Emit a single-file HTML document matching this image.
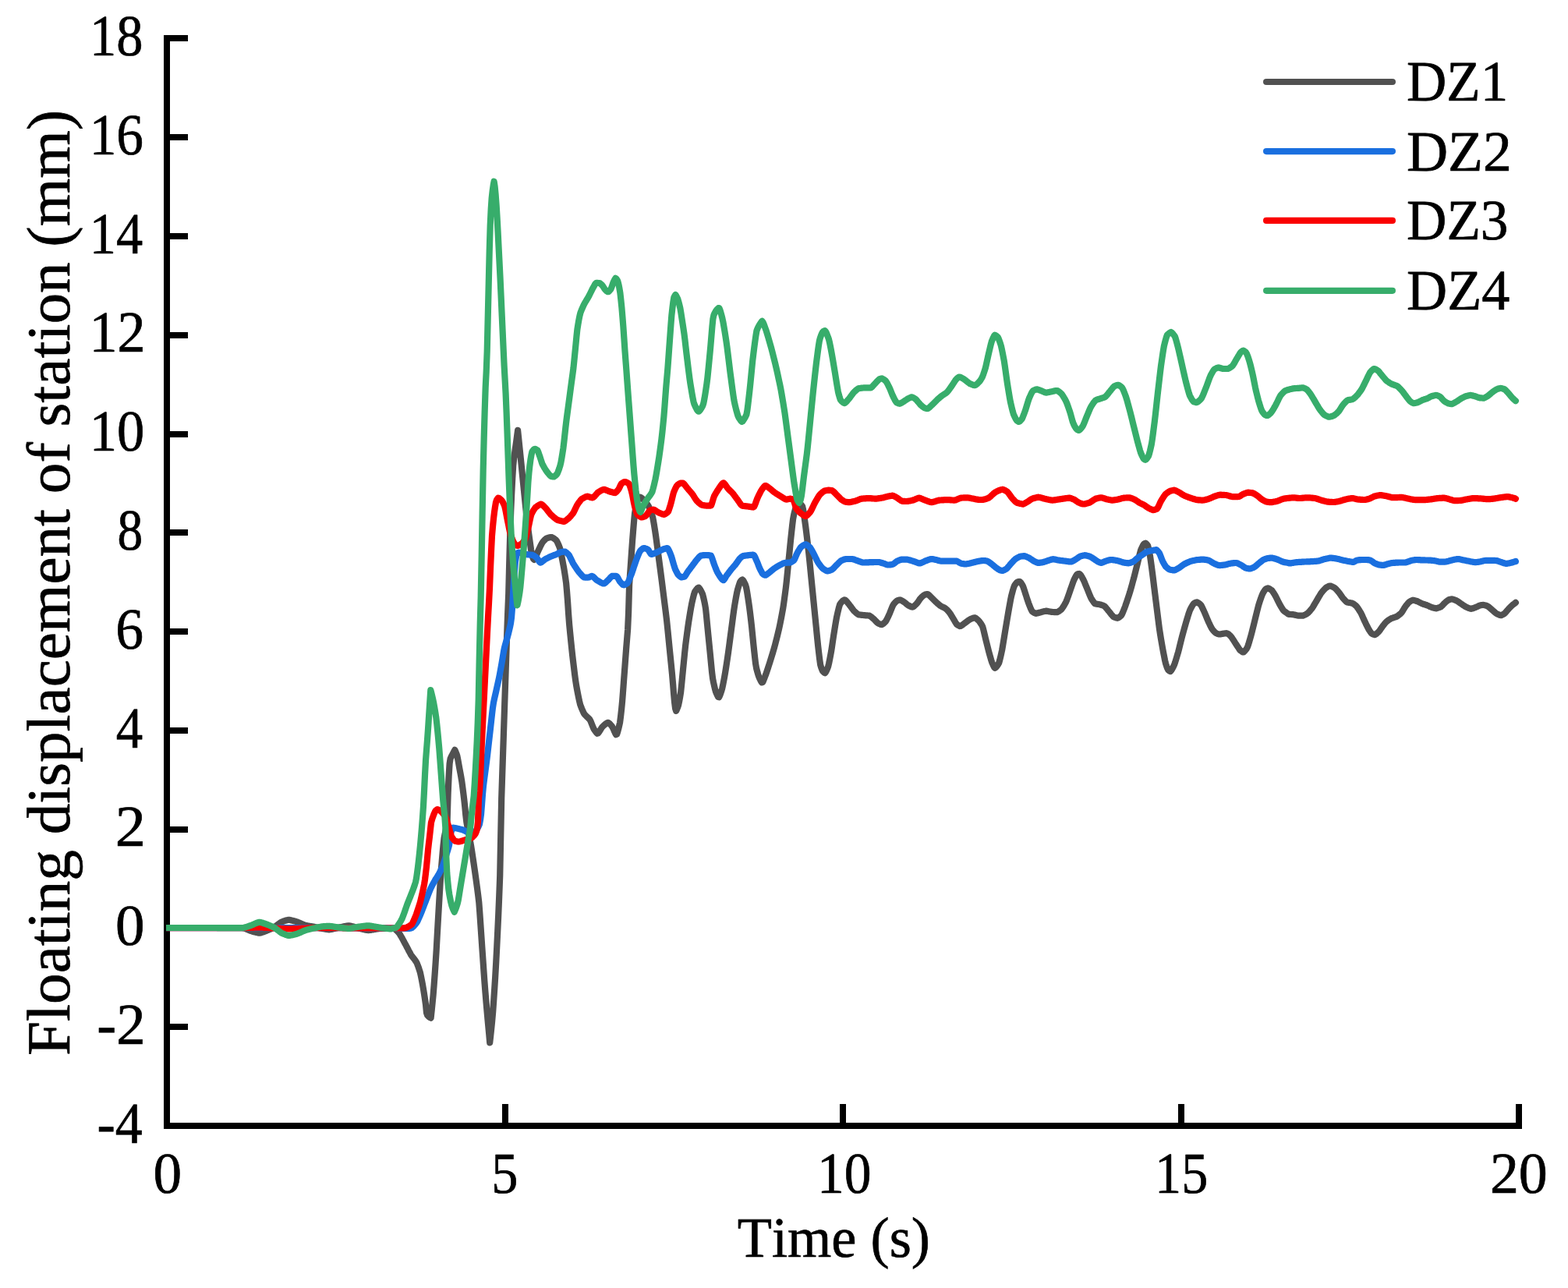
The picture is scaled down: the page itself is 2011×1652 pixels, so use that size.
<!DOCTYPE html>
<html lang="en"><head><meta charset="utf-8"><title>Floating displacement of station</title>
<style>
html,body{margin:0;padding:0;background:#fff;}
body{width:2011px;height:1652px;overflow:hidden;}
svg{display:block;font-family:"Liberation Serif","Times New Roman",serif;font-kerning:none;font-variant-ligatures:none;text-rendering:geometricPrecision;}
.ax{stroke:#000;stroke-width:8;fill:none;stroke-linecap:butt;}
.t{fill:#000;stroke:#000;stroke-width:0.7;stroke-linejoin:round;}
.cv{fill:none;stroke-width:8.2;stroke-linejoin:round;stroke-linecap:round;}
</style></head><body>
<svg width="2011" height="1652" viewBox="0 0 2011 1652">
<rect width="2011" height="1652" fill="#fff"/>
<g class="ax">
<path d="M214,45 V1448"/>
<path d="M210,1444 H1952"/>
<path d="M214,1317 H241"/>
<path d="M214,1191 H241" stroke-width="6"/>
<path d="M214,1064 H241"/>
<path d="M214,937 H241"/>
<path d="M214,810 H241"/>
<path d="M214,683 H241"/>
<path d="M214,557 H241"/>
<path d="M214,430 H241"/>
<path d="M214,303 H241"/>
<path d="M214,176 H241"/>
<path d="M214,49 H241"/>
<path d="M648,1444 V1416"/>
<path d="M1081,1444 V1416"/>
<path d="M1515,1444 V1416"/>
<path d="M1948,1444 V1416"/>
</g>
<clipPath id="plotclip"><rect x="213" y="0" width="1798" height="1652"/></clipPath>
<g clip-path="url(#plotclip)">
<path class="cv" stroke="#515151" d="M214.0,1190.0 L215.0,1190.0 L216.0,1190.0 L217.0,1190.0 L218.0,1190.0 L219.0,1190.0 L220.0,1190.0 L221.0,1190.0 L222.0,1190.0 L223.0,1190.0 L224.0,1190.0 L225.0,1190.0 L226.0,1190.0 L227.0,1190.0 L228.0,1190.0 L229.0,1190.0 L230.0,1190.0 L231.0,1190.0 L232.0,1190.0 L233.0,1190.0 L234.0,1190.0 L235.0,1190.0 L236.0,1190.0 L237.0,1190.0 L238.0,1190.0 L239.0,1190.0 L240.0,1190.0 L241.0,1190.0 L242.0,1190.0 L243.0,1190.0 L244.0,1190.0 L245.0,1190.0 L246.0,1190.0 L247.0,1190.0 L248.0,1190.0 L249.0,1190.0 L250.0,1190.0 L251.0,1190.0 L252.0,1190.0 L253.0,1190.0 L254.0,1190.0 L255.0,1190.0 L256.0,1190.0 L257.0,1190.0 L258.0,1190.0 L259.0,1190.0 L260.0,1190.0 L261.0,1190.0 L262.0,1190.0 L263.0,1190.0 L264.0,1190.0 L265.0,1190.0 L266.0,1190.0 L267.0,1190.0 L268.0,1190.0 L269.0,1190.0 L270.0,1190.0 L271.0,1190.0 L272.0,1190.0 L273.0,1190.0 L274.0,1190.0 L275.0,1190.0 L276.0,1190.0 L277.0,1190.0 L278.0,1190.0 L279.0,1190.0 L280.0,1190.0 L281.0,1190.0 L282.0,1190.0 L283.0,1190.0 L284.0,1190.0 L285.0,1190.0 L286.0,1190.0 L287.0,1190.0 L288.0,1190.0 L289.0,1190.0 L290.0,1190.0 L291.0,1190.0 L292.0,1190.0 L293.0,1190.0 L294.0,1190.0 L295.0,1190.0 L296.0,1190.0 L297.0,1190.0 L298.0,1190.0 L299.0,1190.0 L300.0,1190.0 L301.0,1190.0 L302.0,1190.0 L303.0,1190.0 L304.0,1190.0 L305.0,1190.0 L306.0,1190.0 L307.0,1190.0 L308.0,1190.0 L309.0,1190.0 L310.0,1190.0 L311.0,1190.0 L312.0,1190.2 L313.0,1190.4 L314.0,1190.8 L315.0,1191.2 L316.0,1191.6 L317.0,1192.0 L318.0,1192.5 L319.0,1192.9 L320.0,1193.4 L321.0,1193.8 L322.0,1194.1 L323.0,1194.4 L324.0,1194.7 L325.0,1195.0 L326.0,1195.3 L327.0,1195.6 L328.0,1195.8 L329.0,1196.1 L330.0,1196.3 L331.0,1196.5 L332.0,1196.7 L333.0,1196.7 L334.0,1196.5 L335.0,1196.2 L336.0,1195.9 L337.0,1195.6 L338.0,1195.2 L339.0,1194.9 L340.0,1194.5 L341.0,1194.1 L342.0,1193.7 L343.0,1193.3 L344.0,1192.9 L345.0,1192.4 L346.0,1192.0 L347.0,1191.5 L348.0,1191.0 L349.0,1190.5 L350.0,1189.9 L351.0,1189.4 L352.0,1188.9 L353.0,1188.3 L354.0,1187.6 L355.0,1186.8 L356.0,1186.1 L357.0,1185.3 L358.0,1184.6 L359.0,1183.9 L360.0,1183.2 L361.0,1182.6 L362.0,1182.2 L363.0,1181.8 L364.0,1181.5 L365.0,1181.1 L366.0,1180.8 L367.0,1180.5 L368.0,1180.2 L369.0,1180.0 L370.0,1179.8 L371.0,1179.8 L372.0,1180.0 L373.0,1180.2 L374.0,1180.5 L375.0,1180.7 L376.0,1181.0 L377.0,1181.3 L378.0,1181.6 L379.0,1181.8 L380.0,1182.1 L381.0,1182.4 L382.0,1182.8 L383.0,1183.2 L384.0,1183.6 L385.0,1184.1 L386.0,1184.5 L387.0,1185.0 L388.0,1185.4 L389.0,1185.9 L390.0,1186.3 L391.0,1186.6 L392.0,1187.0 L393.0,1187.1 L394.0,1187.3 L395.0,1187.5 L396.0,1187.7 L397.0,1187.8 L398.0,1188.0 L399.0,1188.1 L400.0,1188.3 L401.0,1188.4 L402.0,1188.6 L403.0,1188.8 L404.0,1189.0 L405.0,1189.2 L406.0,1189.5 L407.0,1189.7 L408.0,1189.9 L409.0,1190.1 L410.0,1190.4 L411.0,1190.6 L412.0,1190.8 L413.0,1191.0 L414.0,1191.1 L415.0,1191.3 L416.0,1191.5 L417.0,1191.6 L418.0,1191.8 L419.0,1191.9 L420.0,1192.1 L421.0,1192.2 L422.0,1192.3 L423.0,1192.2 L424.0,1192.0 L425.0,1191.9 L426.0,1191.7 L427.0,1191.4 L428.0,1191.2 L429.0,1191.0 L430.0,1190.7 L431.0,1190.5 L432.0,1190.2 L433.0,1190.0 L434.0,1189.8 L435.0,1189.6 L436.0,1189.3 L437.0,1189.1 L438.0,1188.9 L439.0,1188.7 L440.0,1188.5 L441.0,1188.3 L442.0,1188.1 L443.0,1187.9 L444.0,1187.7 L445.0,1187.6 L446.0,1187.4 L447.0,1187.3 L448.0,1187.4 L449.0,1187.5 L450.0,1187.8 L451.0,1188.0 L452.0,1188.2 L453.0,1188.5 L454.0,1188.8 L455.0,1189.1 L456.0,1189.4 L457.0,1189.7 L458.0,1190.0 L459.0,1190.3 L460.0,1190.5 L461.0,1190.8 L462.0,1191.0 L463.0,1191.2 L464.0,1191.5 L465.0,1191.7 L466.0,1192.0 L467.0,1192.2 L468.0,1192.4 L469.0,1192.7 L470.0,1192.8 L471.0,1193.0 L472.0,1193.1 L473.0,1193.1 L474.0,1193.0 L475.0,1192.9 L476.0,1192.8 L477.0,1192.6 L478.0,1192.4 L479.0,1192.3 L480.0,1192.1 L481.0,1191.9 L482.0,1191.7 L483.0,1191.5 L484.0,1191.4 L485.0,1191.2 L486.0,1191.1 L487.0,1191.0 L488.0,1191.0 L489.0,1190.9 L490.0,1190.9 L491.0,1190.9 L492.0,1190.8 L493.0,1190.8 L494.0,1190.8 L495.0,1190.7 L496.0,1190.7 L497.0,1190.7 L498.0,1190.6 L499.0,1190.6 L500.0,1190.6 L501.0,1190.6 L502.0,1190.5 L503.0,1190.5 L504.0,1190.5 L505.0,1190.7 L506.0,1191.3 L507.0,1192.0 L508.0,1192.9 L509.0,1193.9 L510.0,1194.9 L511.0,1195.9 L512.0,1197.0 L513.0,1198.6 L514.0,1200.3 L515.0,1202.0 L516.0,1203.8 L517.0,1205.7 L518.0,1207.6 L519.0,1209.4 L520.0,1211.2 L521.0,1213.1 L522.0,1215.0 L523.0,1216.9 L524.0,1218.9 L525.0,1220.7 L526.0,1222.6 L527.0,1224.4 L528.0,1225.9 L529.0,1227.2 L530.0,1228.5 L531.0,1229.8 L532.0,1231.1 L533.0,1232.5 L534.0,1234.0 L535.0,1236.1 L536.0,1238.7 L537.0,1241.5 L538.0,1244.5 L539.0,1247.8 L540.0,1252.5 L541.0,1257.5 L542.0,1262.8 L543.0,1268.6 L544.0,1274.8 L545.0,1281.3 L546.0,1288.3 L547.0,1298.9 L548.0,1301.9 L549.0,1303.0 L550.0,1304.0 L551.0,1304.8 L552.0,1305.4 L552.6,1305.7 L553.6,1296.5 L554.6,1286.7 L555.6,1276.4 L556.6,1263.9 L557.6,1250.1 L558.6,1235.8 L559.6,1219.9 L560.6,1202.1 L561.6,1184.2 L562.6,1166.9 L563.6,1149.7 L564.6,1133.0 L565.6,1118.2 L566.6,1106.0 L567.6,1094.3 L568.6,1083.4 L569.6,1074.8 L570.6,1069.7 L571.6,1065.1 L572.6,1060.1 L573.6,1053.3 L574.6,1018.8 L575.6,995.5 L576.6,979.4 L577.6,973.2 L578.6,970.9 L579.6,968.9 L580.6,967.1 L581.6,965.1 L582.6,963.2 L583.3,961.9 L584.3,963.9 L585.3,966.4 L586.3,969.3 L587.3,974.3 L588.3,979.9 L589.3,985.4 L590.3,990.8 L591.3,996.3 L592.3,1002.2 L593.3,1009.7 L594.3,1017.5 L595.3,1025.7 L596.3,1035.1 L597.3,1045.5 L598.3,1054.0 L599.3,1059.8 L600.3,1065.2 L601.3,1070.4 L602.3,1075.4 L603.3,1080.6 L604.3,1086.1 L605.3,1092.5 L606.3,1099.0 L607.3,1105.7 L608.3,1112.5 L609.3,1119.3 L610.3,1126.5 L611.3,1133.8 L612.3,1141.2 L613.3,1149.0 L614.3,1157.5 L615.3,1170.7 L616.3,1185.2 L617.3,1200.1 L618.3,1214.7 L619.3,1229.1 L620.3,1243.6 L621.3,1257.8 L622.3,1270.8 L623.3,1282.7 L624.3,1294.3 L625.3,1305.6 L626.3,1316.4 L627.3,1327.1 L628.2,1337.4 L629.2,1328.6 L630.2,1319.1 L631.2,1309.0 L632.2,1297.7 L633.2,1283.5 L634.2,1268.4 L635.2,1252.7 L636.2,1234.8 L637.2,1215.4 L638.2,1195.1 L639.2,1173.7 L640.2,1149.9 L641.2,1123.7 L642.2,1073.4 L643.2,1023.7 L644.2,993.0 L645.2,963.2 L646.2,933.2 L647.2,903.2 L648.2,873.2 L649.2,843.1 L650.2,812.8 L651.2,785.6 L652.2,761.8 L653.2,722.0 L654.2,685.2 L655.2,655.7 L656.2,633.3 L657.2,613.9 L658.2,597.0 L659.2,587.7 L660.2,580.2 L661.2,573.2 L662.2,566.2 L663.2,558.5 L664.1,551.9 L665.1,561.5 L666.1,571.1 L667.1,580.8 L668.1,590.6 L669.1,600.6 L670.1,610.7 L671.1,620.7 L672.1,630.6 L673.1,640.3 L674.1,650.0 L675.1,659.5 L676.1,668.5 L677.1,676.2 L678.1,683.7 L679.1,691.0 L680.1,698.1 L681.1,705.3 L682.1,711.4 L683.1,714.5 L684.1,716.9 L685.1,717.9 L686.1,716.3 L687.1,714.2 L688.1,711.7 L689.1,709.2 L690.1,706.9 L691.1,704.8 L692.1,702.7 L693.1,700.6 L694.1,698.6 L695.1,696.7 L696.1,695.2 L697.1,694.1 L698.1,693.0 L699.1,692.0 L700.1,691.1 L701.1,690.4 L702.1,690.1 L703.1,689.8 L704.1,689.6 L705.1,689.3 L706.1,689.1 L707.1,689.0 L708.1,689.3 L709.1,689.8 L710.1,690.4 L711.1,691.1 L712.1,691.9 L713.1,692.7 L714.1,694.0 L715.1,696.0 L716.1,698.2 L717.1,700.6 L718.1,703.2 L719.1,707.5 L720.1,712.3 L721.1,717.4 L722.1,722.7 L723.1,728.1 L724.1,734.1 L725.1,740.6 L726.1,747.7 L727.1,759.1 L728.1,772.0 L729.1,787.3 L730.1,800.4 L731.1,810.9 L732.1,820.9 L733.1,830.6 L734.1,840.0 L735.1,848.5 L736.1,856.8 L737.1,864.9 L738.1,872.5 L739.1,879.0 L740.1,884.5 L741.1,889.7 L742.1,894.7 L743.1,899.4 L744.1,903.6 L745.1,906.2 L746.1,908.8 L747.1,911.1 L748.1,913.3 L749.1,915.3 L750.1,916.7 L751.1,917.7 L752.1,918.7 L753.1,919.6 L754.1,920.5 L755.1,921.5 L756.1,922.5 L757.1,924.1 L758.1,926.4 L759.1,928.9 L760.1,931.4 L761.1,933.8 L762.1,935.8 L763.1,937.3 L764.1,938.6 L765.1,939.8 L766.1,940.8 L767.1,940.4 L768.1,939.2 L769.1,937.6 L770.1,936.0 L771.1,934.3 L772.1,932.8 L773.1,931.7 L774.1,930.8 L775.1,929.9 L776.1,929.0 L777.1,928.2 L778.1,927.6 L779.1,927.0 L780.1,926.8 L781.1,927.5 L782.1,928.4 L783.1,929.5 L784.1,930.7 L785.1,931.9 L786.1,933.7 L787.1,935.9 L788.1,938.3 L789.1,940.4 L790.1,942.2 L791.1,941.8 L792.1,938.9 L793.1,935.2 L794.1,931.0 L795.1,926.6 L796.1,918.8 L797.1,909.8 L798.1,899.4 L799.1,886.2 L800.1,872.4 L801.1,859.1 L802.1,845.7 L803.1,832.4 L804.1,820.0 L805.1,807.5 L806.1,785.4 L807.1,750.3 L808.1,735.9 L809.1,721.5 L810.1,707.1 L811.1,693.2 L812.1,680.6 L813.1,668.5 L814.1,658.1 L815.1,652.5 L816.1,647.6 L817.1,643.4 L818.1,641.1 L819.1,639.6 L820.1,638.4 L821.1,637.6 L822.1,638.1 L823.1,638.9 L824.1,639.8 L825.1,640.7 L826.1,641.7 L827.1,642.8 L828.1,644.0 L829.1,645.3 L830.1,646.7 L831.1,648.1 L832.1,649.8 L833.1,652.1 L834.1,654.6 L835.1,657.3 L836.1,660.1 L837.1,663.2 L838.1,668.3 L839.1,674.3 L840.1,680.7 L841.1,687.3 L842.1,694.7 L843.1,702.3 L844.1,709.9 L845.1,717.4 L846.1,724.9 L847.1,732.4 L848.1,740.0 L849.1,747.8 L850.1,755.8 L851.1,763.7 L852.1,771.7 L853.1,779.6 L854.1,787.5 L855.1,795.7 L856.1,805.3 L857.1,815.4 L858.1,825.6 L859.1,835.6 L860.1,845.5 L861.1,855.4 L862.1,865.6 L863.1,877.4 L864.1,889.8 L865.1,900.8 L866.1,908.7 L867.1,911.9 L868.1,909.9 L869.1,907.3 L870.1,904.4 L871.1,899.7 L872.1,894.2 L873.1,888.1 L874.1,878.6 L875.1,868.2 L876.1,857.9 L877.1,847.8 L878.1,837.7 L879.1,828.2 L880.1,820.3 L881.1,812.7 L882.1,805.4 L883.1,798.4 L884.1,792.1 L885.1,785.9 L886.1,780.1 L887.1,774.7 L888.1,770.2 L889.1,766.0 L890.1,762.1 L891.1,759.1 L892.1,757.6 L893.1,756.2 L894.1,755.0 L895.1,754.0 L896.1,753.6 L897.1,754.7 L898.1,756.1 L899.1,757.9 L900.1,759.8 L901.1,762.1 L902.1,766.0 L903.1,770.4 L904.1,775.2 L905.1,781.2 L906.1,790.8 L907.1,801.3 L908.1,811.6 L909.1,821.6 L910.1,831.6 L911.1,841.6 L912.1,852.1 L913.1,862.3 L914.1,870.3 L915.1,875.4 L916.1,879.9 L917.1,884.1 L918.1,887.5 L919.1,889.9 L920.1,892.1 L921.1,893.9 L922.1,894.3 L923.1,892.4 L924.1,889.8 L925.1,886.8 L926.1,883.4 L927.1,878.8 L928.1,873.7 L929.1,868.4 L930.1,862.8 L931.1,856.5 L932.1,850.0 L933.1,843.3 L934.1,836.4 L935.1,829.0 L936.1,821.4 L937.1,813.9 L938.1,806.3 L939.1,798.7 L940.1,791.0 L941.1,783.6 L942.1,777.0 L943.1,771.1 L944.1,765.5 L945.1,760.2 L946.1,756.0 L947.1,752.6 L948.1,749.5 L949.1,746.7 L950.1,745.0 L951.1,744.1 L952.1,743.5 L953.1,744.4 L954.1,746.0 L955.1,748.0 L956.1,750.2 L957.1,753.6 L958.1,759.1 L959.1,765.3 L960.1,771.9 L961.1,778.9 L962.1,786.8 L963.1,794.9 L964.1,803.9 L965.1,814.0 L966.1,824.2 L967.1,833.7 L968.1,842.9 L969.1,851.4 L970.1,857.1 L971.1,860.9 L972.1,864.4 L973.1,867.5 L974.1,870.0 L975.1,872.1 L976.1,873.9 L977.1,875.4 L978.1,875.1 L979.1,873.1 L980.1,870.6 L981.1,867.9 L982.1,865.3 L983.1,862.4 L984.1,859.4 L985.1,856.4 L986.1,853.3 L987.1,850.2 L988.1,847.0 L989.1,843.8 L990.1,840.5 L991.1,837.2 L992.1,833.8 L993.1,830.4 L994.1,826.7 L995.1,822.8 L996.1,818.9 L997.1,814.9 L998.1,810.8 L999.1,806.6 L1000.1,802.0 L1001.1,797.0 L1002.1,791.9 L1003.1,786.6 L1004.1,781.1 L1005.1,774.6 L1006.1,767.3 L1007.1,759.7 L1008.1,751.9 L1009.1,742.8 L1010.1,732.7 L1011.1,722.5 L1012.1,712.4 L1013.1,702.3 L1014.1,692.4 L1015.1,683.1 L1016.1,674.0 L1017.1,665.7 L1018.1,660.5 L1019.1,656.3 L1020.1,652.6 L1021.1,649.6 L1022.1,648.1 L1023.1,646.7 L1024.1,645.6 L1025.1,645.0 L1026.1,645.8 L1027.1,646.8 L1028.1,648.1 L1029.1,649.5 L1030.1,653.8 L1031.1,660.1 L1032.1,667.2 L1033.1,674.4 L1034.1,682.3 L1035.1,690.6 L1036.1,699.2 L1037.1,708.0 L1038.1,717.7 L1039.1,727.7 L1040.1,737.8 L1041.1,747.8 L1042.1,757.8 L1043.1,767.8 L1044.1,777.8 L1045.1,787.8 L1046.1,797.8 L1047.1,807.9 L1048.1,818.1 L1049.1,827.9 L1050.1,836.6 L1051.1,845.1 L1052.1,852.3 L1053.1,855.8 L1054.1,858.5 L1055.1,860.7 L1056.1,861.8 L1057.1,862.7 L1058.1,863.3 L1059.1,862.0 L1060.1,860.0 L1061.1,857.6 L1062.1,855.1 L1063.1,850.9 L1064.1,846.0 L1065.1,840.7 L1066.1,835.3 L1067.1,828.8 L1068.1,822.0 L1069.1,815.3 L1070.1,809.1 L1071.1,802.9 L1072.1,797.0 L1073.1,791.3 L1074.1,786.9 L1075.1,782.6 L1076.1,778.6 L1077.1,775.3 L1078.1,773.8 L1079.1,772.5 L1080.1,771.3 L1081.1,770.3 L1082.1,769.8 L1083.1,769.4 L1084.1,769.7 L1085.1,770.6 L1086.1,771.7 L1087.1,772.9 L1088.1,774.2 L1089.1,775.4 L1090.1,776.7 L1091.1,778.0 L1092.1,779.4 L1093.1,780.8 L1094.1,782.1 L1095.1,783.3 L1096.1,784.3 L1097.1,785.2 L1098.1,786.1 L1099.1,787.0 L1100.1,787.7 L1101.1,788.3 L1102.1,788.4 L1103.1,788.6 L1104.1,788.7 L1105.1,788.8 L1106.1,788.9 L1107.1,789.0 L1108.1,789.1 L1109.1,789.2 L1110.1,789.3 L1111.1,789.4 L1112.1,789.4 L1113.1,789.5 L1114.1,789.6 L1115.1,789.7 L1116.1,790.3 L1117.1,791.0 L1118.1,791.8 L1119.1,792.7 L1120.1,793.5 L1121.1,794.4 L1122.1,795.4 L1123.1,796.5 L1124.1,797.5 L1125.1,798.5 L1126.1,799.3 L1127.1,799.8 L1128.1,800.3 L1129.1,800.7 L1130.1,801.0 L1131.1,801.1 L1132.1,800.5 L1133.1,799.8 L1134.1,798.9 L1135.1,797.9 L1136.1,796.8 L1137.1,795.0 L1138.1,793.0 L1139.1,790.9 L1140.1,788.8 L1141.1,786.6 L1142.1,784.1 L1143.1,781.5 L1144.1,779.0 L1145.1,776.7 L1146.1,774.9 L1147.1,773.8 L1148.1,772.7 L1149.1,771.7 L1150.1,770.8 L1151.1,770.2 L1152.1,769.9 L1153.1,769.6 L1154.1,769.4 L1155.1,769.6 L1156.1,770.1 L1157.1,770.6 L1158.1,771.3 L1159.1,771.9 L1160.1,772.6 L1161.1,773.4 L1162.1,774.2 L1163.1,775.1 L1164.1,775.9 L1165.1,776.5 L1166.1,777.0 L1167.1,777.5 L1168.1,778.0 L1169.1,778.4 L1170.1,778.6 L1171.1,778.3 L1172.1,777.6 L1173.1,776.7 L1174.1,775.8 L1175.1,774.8 L1176.1,773.7 L1177.1,772.4 L1178.1,770.9 L1179.1,769.4 L1180.1,768.0 L1181.1,766.9 L1182.1,765.9 L1183.1,764.9 L1184.1,764.1 L1185.1,763.3 L1186.1,762.8 L1187.1,762.5 L1188.1,762.2 L1189.1,762.0 L1190.1,762.2 L1191.1,763.0 L1192.1,763.9 L1193.1,764.9 L1194.1,765.9 L1195.1,766.9 L1196.1,767.9 L1197.1,768.9 L1198.1,769.9 L1199.1,770.9 L1200.1,771.9 L1201.1,772.8 L1202.1,773.7 L1203.1,774.5 L1204.1,775.4 L1205.1,776.2 L1206.1,777.0 L1207.1,777.6 L1208.1,778.1 L1209.1,778.6 L1210.1,779.0 L1211.1,779.5 L1212.1,780.1 L1213.1,780.8 L1214.1,781.7 L1215.1,782.7 L1216.1,783.8 L1217.1,784.9 L1218.1,786.2 L1219.1,787.7 L1220.1,789.4 L1221.1,791.0 L1222.1,792.7 L1223.1,794.3 L1224.1,796.0 L1225.1,797.8 L1226.1,799.4 L1227.1,800.8 L1228.1,801.6 L1229.1,802.2 L1230.1,802.7 L1231.1,803.1 L1232.1,802.9 L1233.1,802.3 L1234.1,801.7 L1235.1,800.9 L1236.1,800.1 L1237.1,799.4 L1238.1,798.7 L1239.1,797.9 L1240.1,797.2 L1241.1,796.4 L1242.1,795.7 L1243.1,795.0 L1244.1,794.4 L1245.1,793.9 L1246.1,793.5 L1247.1,793.1 L1248.1,792.8 L1249.1,792.5 L1250.1,792.3 L1251.1,792.6 L1252.1,793.3 L1253.1,794.2 L1254.1,795.1 L1255.1,796.0 L1256.1,797.2 L1257.1,798.6 L1258.1,800.0 L1259.1,801.6 L1260.1,803.4 L1261.1,806.9 L1262.1,811.0 L1263.1,815.3 L1264.1,819.5 L1265.1,823.5 L1266.1,827.5 L1267.1,831.5 L1268.1,835.4 L1269.1,839.1 L1270.1,842.7 L1271.1,846.2 L1272.1,849.3 L1273.1,851.6 L1274.1,853.9 L1275.1,855.8 L1276.1,856.8 L1277.1,856.0 L1278.1,855.0 L1279.1,853.7 L1280.1,852.2 L1281.1,850.5 L1282.1,847.0 L1283.1,843.0 L1284.1,838.6 L1285.1,834.0 L1286.1,828.3 L1287.1,822.2 L1288.1,816.0 L1289.1,809.9 L1290.1,803.9 L1291.1,797.9 L1292.1,791.9 L1293.1,786.0 L1294.1,780.3 L1295.1,774.7 L1296.1,769.2 L1297.1,764.4 L1298.1,760.6 L1299.1,756.9 L1300.1,753.6 L1301.1,751.0 L1302.1,749.5 L1303.1,748.2 L1304.1,747.1 L1305.1,746.4 L1306.1,746.1 L1307.1,745.9 L1308.1,746.1 L1309.1,747.1 L1310.1,748.6 L1311.1,750.2 L1312.1,752.2 L1313.1,755.0 L1314.1,758.1 L1315.1,761.3 L1316.1,764.3 L1317.1,767.4 L1318.1,770.4 L1319.1,773.4 L1320.1,776.1 L1321.1,778.6 L1322.1,781.0 L1323.1,783.1 L1324.1,784.5 L1325.1,785.2 L1326.1,785.8 L1327.1,786.3 L1328.1,786.7 L1329.1,786.8 L1330.1,786.6 L1331.1,786.3 L1332.1,786.0 L1333.1,785.7 L1334.1,785.4 L1335.1,785.2 L1336.1,784.9 L1337.1,784.6 L1338.1,784.4 L1339.1,784.1 L1340.1,783.9 L1341.1,783.7 L1342.1,783.7 L1343.1,783.8 L1344.1,784.0 L1345.1,784.2 L1346.1,784.4 L1347.1,784.6 L1348.1,784.8 L1349.1,784.9 L1350.1,785.0 L1351.1,785.0 L1352.1,785.1 L1353.1,785.2 L1354.1,785.2 L1355.1,785.2 L1356.1,785.1 L1357.1,784.6 L1358.1,784.0 L1359.1,783.2 L1360.1,782.5 L1361.1,781.7 L1362.1,780.6 L1363.1,779.1 L1364.1,777.5 L1365.1,775.8 L1366.1,774.0 L1367.1,772.2 L1368.1,769.9 L1369.1,767.2 L1370.1,764.4 L1371.1,761.5 L1372.1,758.6 L1373.1,755.7 L1374.1,752.9 L1375.1,750.0 L1376.1,747.1 L1377.1,744.5 L1378.1,742.3 L1379.1,740.3 L1380.1,738.4 L1381.1,736.9 L1382.1,736.3 L1383.1,736.1 L1384.1,735.9 L1385.1,736.5 L1386.1,737.7 L1387.1,739.3 L1388.1,741.1 L1389.1,742.8 L1390.1,744.9 L1391.1,747.2 L1392.1,749.7 L1393.1,752.1 L1394.1,754.6 L1395.1,757.0 L1396.1,759.5 L1397.1,762.0 L1398.1,764.4 L1399.1,766.7 L1400.1,768.5 L1401.1,770.1 L1402.1,771.6 L1403.1,772.9 L1404.1,774.1 L1405.1,774.5 L1406.1,774.6 L1407.1,774.8 L1408.1,774.9 L1409.1,775.1 L1410.1,775.3 L1411.1,775.5 L1412.1,775.8 L1413.1,776.1 L1414.1,776.4 L1415.1,776.8 L1416.1,777.2 L1417.1,778.0 L1418.1,779.1 L1419.1,780.3 L1420.1,781.5 L1421.1,782.8 L1422.1,784.0 L1423.1,785.2 L1424.1,786.5 L1425.1,787.8 L1426.1,789.0 L1427.1,790.1 L1428.1,791.1 L1429.1,791.6 L1430.1,791.9 L1431.1,792.3 L1432.1,792.6 L1433.1,792.8 L1434.1,792.4 L1435.1,791.8 L1436.1,791.1 L1437.1,790.3 L1438.1,789.4 L1439.1,787.5 L1440.1,785.3 L1441.1,782.8 L1442.1,780.2 L1443.1,777.6 L1444.1,774.7 L1445.1,771.8 L1446.1,768.8 L1447.1,765.8 L1448.1,762.7 L1449.1,759.6 L1450.1,756.2 L1451.1,752.6 L1452.1,749.0 L1453.1,745.3 L1454.1,741.7 L1455.1,737.7 L1456.1,733.8 L1457.1,729.7 L1458.1,725.7 L1459.1,721.7 L1460.1,717.6 L1461.1,713.3 L1462.1,709.3 L1463.1,705.7 L1464.1,703.3 L1465.1,701.2 L1466.1,699.2 L1467.1,697.6 L1468.1,697.1 L1469.1,696.7 L1470.1,697.4 L1471.1,698.4 L1472.1,699.7 L1473.1,703.6 L1474.1,708.5 L1475.1,713.8 L1476.1,720.8 L1477.1,728.3 L1478.1,735.9 L1479.1,743.8 L1480.1,751.9 L1481.1,759.9 L1482.1,767.9 L1483.1,775.9 L1484.1,783.9 L1485.1,792.0 L1486.1,800.1 L1487.1,807.7 L1488.1,814.0 L1489.1,820.1 L1490.1,825.9 L1491.1,831.6 L1492.1,836.9 L1493.1,842.1 L1494.1,847.1 L1495.1,851.3 L1496.1,854.3 L1497.1,857.0 L1498.1,859.1 L1499.1,860.0 L1500.1,860.8 L1501.1,861.2 L1502.1,860.0 L1503.1,858.4 L1504.1,856.6 L1505.1,854.6 L1506.1,852.5 L1507.1,849.6 L1508.1,846.4 L1509.1,843.1 L1510.1,839.7 L1511.1,836.3 L1512.1,832.4 L1513.1,828.3 L1514.1,824.2 L1515.1,820.2 L1516.1,816.3 L1517.1,812.6 L1518.1,809.0 L1519.1,805.4 L1520.1,801.8 L1521.1,798.4 L1522.1,795.0 L1523.1,791.7 L1524.1,788.4 L1525.1,785.4 L1526.1,782.7 L1527.1,780.7 L1528.1,778.7 L1529.1,776.9 L1530.1,775.3 L1531.1,774.1 L1532.1,773.5 L1533.1,773.0 L1534.1,772.5 L1535.1,772.4 L1536.1,772.8 L1537.1,773.4 L1538.1,774.1 L1539.1,774.8 L1540.1,775.8 L1541.1,777.6 L1542.1,779.6 L1543.1,781.7 L1544.1,783.9 L1545.1,786.1 L1546.1,788.5 L1547.1,790.9 L1548.1,793.3 L1549.1,795.7 L1550.1,798.0 L1551.1,800.1 L1552.1,802.2 L1553.1,804.2 L1554.1,806.1 L1555.1,807.6 L1556.1,808.7 L1557.1,809.8 L1558.1,810.8 L1559.1,811.7 L1560.1,812.3 L1561.1,812.7 L1562.1,813.1 L1563.1,813.4 L1564.1,813.5 L1565.1,813.4 L1566.1,813.2 L1567.1,813.0 L1568.1,812.8 L1569.1,812.7 L1570.1,812.5 L1571.1,812.4 L1572.1,812.3 L1573.1,812.2 L1574.1,812.4 L1575.1,813.0 L1576.1,813.8 L1577.1,814.7 L1578.1,815.7 L1579.1,816.8 L1580.1,818.2 L1581.1,819.7 L1582.1,821.2 L1583.1,822.8 L1584.1,824.4 L1585.1,825.9 L1586.1,827.5 L1587.1,829.1 L1588.1,830.6 L1589.1,832.1 L1590.1,833.5 L1591.1,834.5 L1592.1,835.2 L1593.1,835.9 L1594.1,836.5 L1595.1,836.2 L1596.1,835.4 L1597.1,834.2 L1598.1,833.0 L1599.1,831.6 L1600.1,829.5 L1601.1,826.6 L1602.1,823.3 L1603.1,819.9 L1604.1,816.4 L1605.1,812.7 L1606.1,808.8 L1607.1,804.8 L1608.1,800.7 L1609.1,796.6 L1610.1,792.6 L1611.1,788.5 L1612.1,784.4 L1613.1,780.4 L1614.1,776.5 L1615.1,773.3 L1616.1,770.3 L1617.1,767.4 L1618.1,764.7 L1619.1,762.1 L1620.1,760.2 L1621.1,758.5 L1622.1,757.0 L1623.1,755.7 L1624.1,755.1 L1625.1,754.7 L1626.1,754.4 L1627.1,754.7 L1628.1,755.2 L1629.1,755.8 L1630.1,756.5 L1631.1,757.2 L1632.1,758.4 L1633.1,759.9 L1634.1,761.5 L1635.1,763.2 L1636.1,764.9 L1637.1,766.8 L1638.1,768.8 L1639.1,770.9 L1640.1,772.9 L1641.1,774.9 L1642.1,776.6 L1643.1,778.3 L1644.1,780.0 L1645.1,781.6 L1646.1,783.0 L1647.1,783.9 L1648.1,784.6 L1649.1,785.3 L1650.1,785.9 L1651.1,786.7 L1652.1,787.7 L1653.1,787.8 L1654.1,787.9 L1655.1,788.0 L1656.1,788.0 L1657.1,788.1 L1658.1,788.2 L1659.1,788.3 L1660.1,788.5 L1661.1,788.8 L1662.1,789.1 L1663.1,789.3 L1664.1,789.5 L1665.1,789.6 L1666.1,789.6 L1667.1,789.6 L1668.1,789.6 L1669.1,789.6 L1670.1,789.6 L1671.1,789.6 L1672.1,789.2 L1673.1,788.8 L1674.1,788.3 L1675.1,787.8 L1676.1,787.2 L1677.1,786.5 L1678.1,785.6 L1679.1,784.5 L1680.1,783.4 L1681.1,782.2 L1682.1,781.0 L1683.1,779.7 L1684.1,778.1 L1685.1,776.4 L1686.1,774.7 L1687.1,773.0 L1688.1,771.3 L1689.1,769.6 L1690.1,767.9 L1691.1,766.2 L1692.1,764.5 L1693.1,762.8 L1694.1,761.2 L1695.1,759.8 L1696.1,758.6 L1697.1,757.5 L1698.1,756.3 L1699.1,755.3 L1700.1,754.3 L1701.1,753.5 L1702.1,753.0 L1703.1,752.4 L1704.1,751.9 L1705.1,751.5 L1706.1,751.5 L1707.1,751.8 L1708.1,752.2 L1709.1,752.6 L1710.1,753.1 L1711.1,753.6 L1712.1,754.3 L1713.1,755.2 L1714.1,756.3 L1715.1,757.5 L1716.1,758.6 L1717.1,759.8 L1718.1,761.1 L1719.1,762.5 L1720.1,764.0 L1721.1,765.4 L1722.1,766.8 L1723.1,768.0 L1724.1,769.1 L1725.1,770.2 L1726.1,771.2 L1727.1,772.0 L1728.1,772.5 L1729.1,772.7 L1730.1,772.9 L1731.1,773.0 L1732.1,773.2 L1733.1,773.4 L1734.1,773.6 L1735.1,774.1 L1736.1,774.7 L1737.1,775.4 L1738.1,776.2 L1739.1,777.0 L1740.1,778.1 L1741.1,779.5 L1742.1,780.9 L1743.1,782.5 L1744.1,784.1 L1745.1,785.7 L1746.1,787.6 L1747.1,789.8 L1748.1,792.1 L1749.1,794.3 L1750.1,796.5 L1751.1,798.6 L1752.1,800.7 L1753.1,802.7 L1754.1,804.7 L1755.1,806.6 L1756.1,808.3 L1757.1,809.8 L1758.1,811.2 L1759.1,812.5 L1760.1,813.1 L1761.1,813.5 L1762.1,813.8 L1763.1,814.1 L1764.1,813.7 L1765.1,813.1 L1766.1,812.2 L1767.1,811.3 L1768.1,810.3 L1769.1,809.2 L1770.1,807.8 L1771.1,806.3 L1772.1,804.9 L1773.1,803.4 L1774.1,802.2 L1775.1,800.9 L1776.1,799.7 L1777.1,798.5 L1778.1,797.4 L1779.1,796.6 L1780.1,795.9 L1781.1,795.2 L1782.1,794.5 L1783.1,793.9 L1784.1,793.3 L1785.1,792.9 L1786.1,792.6 L1787.1,792.2 L1788.1,791.9 L1789.1,791.6 L1790.1,791.3 L1791.1,790.9 L1792.1,790.3 L1793.1,789.6 L1794.1,788.8 L1795.1,788.0 L1796.1,787.2 L1797.1,786.3 L1798.1,785.0 L1799.1,783.3 L1800.1,781.7 L1801.1,780.0 L1802.1,778.4 L1803.1,777.1 L1804.1,775.8 L1805.1,774.6 L1806.1,773.4 L1807.1,772.4 L1808.1,771.7 L1809.1,771.1 L1810.1,770.5 L1811.1,770.1 L1812.1,769.7 L1813.1,769.9 L1814.1,770.1 L1815.1,770.4 L1816.1,770.7 L1817.1,771.0 L1818.1,771.3 L1819.1,771.8 L1820.1,772.3 L1821.1,772.8 L1822.1,773.3 L1823.1,773.8 L1824.1,774.3 L1825.1,774.7 L1826.1,775.0 L1827.1,775.3 L1828.1,775.6 L1829.1,776.0 L1830.1,776.3 L1831.1,776.7 L1832.1,777.2 L1833.1,777.7 L1834.1,778.1 L1835.1,778.5 L1836.1,778.9 L1837.1,779.2 L1838.1,779.5 L1839.1,779.7 L1840.1,780.0 L1841.1,780.2 L1842.1,780.3 L1843.1,780.0 L1844.1,779.8 L1845.1,779.4 L1846.1,779.1 L1847.1,778.6 L1848.1,778.2 L1849.1,777.3 L1850.1,776.3 L1851.1,775.2 L1852.1,774.1 L1853.1,773.2 L1854.1,772.3 L1855.1,771.4 L1856.1,770.6 L1857.1,769.9 L1858.1,769.3 L1859.1,769.0 L1860.1,768.7 L1861.1,768.5 L1862.1,768.4 L1863.1,768.6 L1864.1,768.9 L1865.1,769.2 L1866.1,769.6 L1867.1,770.0 L1868.1,770.5 L1869.1,771.1 L1870.1,771.7 L1871.1,772.4 L1872.1,773.1 L1873.1,773.8 L1874.1,774.5 L1875.1,775.2 L1876.1,775.9 L1877.1,776.5 L1878.1,777.2 L1879.1,777.9 L1880.1,778.4 L1881.1,778.8 L1882.1,779.3 L1883.1,779.7 L1884.1,780.1 L1885.1,780.4 L1886.1,780.7 L1887.1,780.8 L1888.1,780.6 L1889.1,780.3 L1890.1,779.9 L1891.1,779.5 L1892.1,779.1 L1893.1,778.7 L1894.1,778.3 L1895.1,777.8 L1896.1,777.3 L1897.1,776.9 L1898.1,776.5 L1899.1,776.3 L1900.1,776.1 L1901.1,776.0 L1902.1,775.9 L1903.1,776.0 L1904.1,776.2 L1905.1,776.4 L1906.1,776.7 L1907.1,777.1 L1908.1,777.6 L1909.1,778.3 L1910.1,779.1 L1911.1,780.0 L1912.1,780.9 L1913.1,781.8 L1914.1,782.6 L1915.1,783.5 L1916.1,784.4 L1917.1,785.3 L1918.1,786.1 L1919.1,786.9 L1920.1,787.4 L1921.1,787.9 L1922.1,788.3 L1923.1,788.7 L1924.1,789.0 L1925.1,789.2 L1926.1,788.9 L1927.1,788.4 L1928.1,787.8 L1929.1,787.2 L1930.1,786.4 L1931.1,785.3 L1932.1,784.1 L1933.1,783.0 L1934.1,781.8 L1935.1,780.7 L1936.1,779.7 L1937.1,778.7 L1938.1,777.7 L1939.1,776.7 L1940.1,775.8 L1941.1,775.0 L1942.1,774.3 L1943.1,773.5 L1943.9,772.9"/>
<path class="cv" stroke="#1A6FDF" d="M214.0,1190.1 L215.0,1190.1 L216.0,1190.1 L217.0,1190.1 L218.0,1190.1 L219.0,1190.1 L220.0,1190.1 L221.0,1190.1 L222.0,1190.1 L223.0,1190.1 L224.0,1190.1 L225.0,1190.1 L226.0,1190.1 L227.0,1190.1 L228.0,1190.1 L229.0,1190.1 L230.0,1190.1 L231.0,1190.1 L232.0,1190.1 L233.0,1190.1 L234.0,1190.1 L235.0,1190.1 L236.0,1190.1 L237.0,1190.1 L238.0,1190.1 L239.0,1190.1 L240.0,1190.1 L241.0,1190.1 L242.0,1190.1 L243.0,1190.1 L244.0,1190.1 L245.0,1190.1 L246.0,1190.1 L247.0,1190.1 L248.0,1190.1 L249.0,1190.1 L250.0,1190.1 L251.0,1190.1 L252.0,1190.1 L253.0,1190.1 L254.0,1190.1 L255.0,1190.1 L256.0,1190.1 L257.0,1190.1 L258.0,1190.1 L259.0,1190.1 L260.0,1190.1 L261.0,1190.1 L262.0,1190.1 L263.0,1190.1 L264.0,1190.1 L265.0,1190.1 L266.0,1190.1 L267.0,1190.1 L268.0,1190.1 L269.0,1190.1 L270.0,1190.1 L271.0,1190.1 L272.0,1190.1 L273.0,1190.1 L274.0,1190.1 L275.0,1190.1 L276.0,1190.1 L277.0,1190.1 L278.0,1190.1 L279.0,1190.1 L280.0,1190.1 L281.0,1190.1 L282.0,1190.1 L283.0,1190.1 L284.0,1190.1 L285.0,1190.1 L286.0,1190.1 L287.0,1190.1 L288.0,1190.1 L289.0,1190.1 L290.0,1190.1 L291.0,1190.1 L292.0,1190.1 L293.0,1190.1 L294.0,1190.1 L295.0,1190.1 L296.0,1190.1 L297.0,1190.1 L298.0,1190.1 L299.0,1190.1 L300.0,1190.1 L301.0,1190.1 L302.0,1190.1 L303.0,1190.1 L304.0,1190.1 L305.0,1190.1 L306.0,1190.1 L307.0,1190.1 L308.0,1190.1 L309.0,1190.1 L310.0,1190.1 L311.0,1190.1 L312.0,1190.1 L313.0,1190.1 L314.0,1190.1 L315.0,1190.1 L316.0,1190.1 L317.0,1190.1 L318.0,1190.1 L319.0,1190.1 L320.0,1190.1 L321.0,1190.1 L322.0,1190.1 L323.0,1190.1 L324.0,1190.1 L325.0,1190.1 L326.0,1190.1 L327.0,1190.1 L328.0,1190.1 L329.0,1190.1 L330.0,1190.1 L331.0,1190.1 L332.0,1190.1 L333.0,1190.1 L334.0,1190.1 L335.0,1190.1 L336.0,1190.1 L337.0,1190.1 L338.0,1190.1 L339.0,1190.1 L340.0,1190.1 L341.0,1190.1 L342.0,1190.1 L343.0,1190.1 L344.0,1190.1 L345.0,1190.1 L346.0,1190.1 L347.0,1190.1 L348.0,1190.1 L349.0,1190.1 L350.0,1190.1 L351.0,1190.1 L352.0,1190.1 L353.0,1190.1 L354.0,1190.1 L355.0,1190.1 L356.0,1190.1 L357.0,1190.1 L358.0,1190.1 L359.0,1190.1 L360.0,1190.1 L361.0,1190.1 L362.0,1190.1 L363.0,1190.1 L364.0,1190.1 L365.0,1190.1 L366.0,1190.1 L367.0,1190.1 L368.0,1190.1 L369.0,1190.1 L370.0,1190.1 L371.0,1190.1 L372.0,1190.1 L373.0,1190.1 L374.0,1190.1 L375.0,1190.1 L376.0,1190.1 L377.0,1190.1 L378.0,1190.1 L379.0,1190.1 L380.0,1190.1 L381.0,1190.1 L382.0,1190.1 L383.0,1190.1 L384.0,1190.1 L385.0,1190.1 L386.0,1190.1 L387.0,1190.1 L388.0,1190.1 L389.0,1190.1 L390.0,1190.1 L391.0,1190.1 L392.0,1190.1 L393.0,1190.1 L394.0,1190.1 L395.0,1190.1 L396.0,1190.1 L397.0,1190.1 L398.0,1190.1 L399.0,1190.1 L400.0,1190.1 L401.0,1190.1 L402.0,1190.1 L403.0,1190.1 L404.0,1190.1 L405.0,1190.1 L406.0,1190.1 L407.0,1190.1 L408.0,1190.1 L409.0,1190.1 L410.0,1190.1 L411.0,1190.1 L412.0,1190.2 L413.0,1190.2 L414.0,1190.2 L415.0,1190.2 L416.0,1190.2 L417.0,1190.2 L418.0,1190.2 L419.0,1190.2 L420.0,1190.2 L421.0,1190.2 L422.0,1190.2 L423.0,1190.2 L424.0,1190.2 L425.0,1190.2 L426.0,1190.2 L427.0,1190.2 L428.0,1190.2 L429.0,1190.2 L430.0,1190.2 L431.0,1190.2 L432.0,1190.2 L433.0,1190.2 L434.0,1190.2 L435.0,1190.2 L436.0,1190.2 L437.0,1190.2 L438.0,1190.2 L439.0,1190.2 L440.0,1190.2 L441.0,1190.2 L442.0,1190.2 L443.0,1190.2 L444.0,1190.2 L445.0,1190.2 L446.0,1190.2 L447.0,1190.2 L448.0,1190.2 L449.0,1190.3 L450.0,1190.3 L451.0,1190.3 L452.0,1190.3 L453.0,1190.3 L454.0,1190.3 L455.0,1190.3 L456.0,1190.3 L457.0,1190.3 L458.0,1190.3 L459.0,1190.3 L460.0,1190.3 L461.0,1190.3 L462.0,1190.3 L463.0,1190.3 L464.0,1190.3 L465.0,1190.3 L466.0,1190.3 L467.0,1190.3 L468.0,1190.3 L469.0,1190.3 L470.0,1190.3 L471.0,1190.3 L472.0,1190.3 L473.0,1190.3 L474.0,1190.3 L475.0,1190.4 L476.0,1190.4 L477.0,1190.4 L478.0,1190.4 L479.0,1190.4 L480.0,1190.4 L481.0,1190.4 L482.0,1190.4 L483.0,1190.4 L484.0,1190.4 L485.0,1190.4 L486.0,1190.4 L487.0,1190.4 L488.0,1190.4 L489.0,1190.4 L490.0,1190.4 L491.0,1190.4 L492.0,1190.4 L493.0,1190.4 L494.0,1190.4 L495.0,1190.4 L496.0,1190.4 L497.0,1190.5 L498.0,1190.5 L499.0,1190.5 L500.0,1190.5 L501.0,1190.5 L502.0,1190.5 L503.0,1190.5 L504.0,1190.5 L505.0,1190.5 L506.0,1190.5 L507.0,1190.5 L508.0,1190.5 L509.0,1190.6 L510.0,1190.6 L511.0,1190.6 L512.0,1190.6 L513.0,1190.7 L514.0,1190.7 L515.0,1190.7 L516.0,1190.7 L517.0,1190.8 L518.0,1190.8 L519.0,1190.8 L520.0,1190.8 L521.0,1190.8 L522.0,1190.8 L523.0,1190.8 L524.0,1190.8 L525.0,1190.8 L526.0,1190.7 L527.0,1190.7 L528.0,1190.2 L529.0,1189.4 L530.0,1188.5 L531.0,1187.4 L532.0,1186.3 L533.0,1185.1 L534.0,1183.9 L535.0,1182.3 L536.0,1180.3 L537.0,1178.1 L538.0,1175.8 L539.0,1173.5 L540.0,1171.2 L541.0,1168.7 L542.0,1166.1 L543.0,1163.5 L544.0,1160.9 L545.0,1158.3 L546.0,1155.7 L547.0,1153.1 L548.0,1150.5 L549.0,1147.9 L550.0,1145.3 L551.0,1142.7 L552.0,1140.3 L553.0,1138.2 L554.0,1136.2 L555.0,1134.3 L556.0,1132.5 L557.0,1130.7 L558.0,1128.9 L559.0,1127.2 L560.0,1125.7 L561.0,1124.1 L562.0,1122.5 L563.0,1120.8 L564.0,1118.8 L565.0,1116.8 L566.0,1114.6 L567.0,1112.4 L568.0,1110.1 L569.0,1107.2 L570.0,1104.1 L571.0,1100.9 L572.0,1097.7 L573.0,1094.4 L574.0,1091.2 L575.0,1087.9 L576.0,1084.2 L577.0,1078.1 L578.0,1069.6 L579.0,1065.7 L580.0,1063.2 L581.0,1061.7 L582.0,1061.8 L583.0,1061.9 L584.0,1062.1 L585.0,1062.3 L586.0,1062.5 L587.0,1062.7 L588.0,1062.9 L589.0,1063.2 L590.0,1063.4 L591.0,1063.7 L592.0,1063.9 L593.0,1064.2 L594.0,1064.6 L595.0,1065.0 L596.0,1065.5 L597.0,1066.1 L598.0,1066.6 L599.0,1067.1 L600.0,1067.6 L601.0,1068.1 L602.0,1068.6 L603.0,1069.0 L604.0,1069.3 L605.0,1069.1 L606.0,1068.6 L607.0,1067.9 L608.0,1067.2 L609.0,1066.5 L610.0,1065.7 L611.0,1064.5 L612.0,1063.0 L613.0,1061.3 L614.0,1059.4 L615.0,1057.1 L616.0,1051.8 L617.0,1044.5 L618.0,1032.1 L619.0,1018.8 L620.0,1007.9 L621.0,999.9 L622.0,992.4 L623.0,985.0 L624.0,977.5 L625.0,969.2 L626.0,960.5 L627.0,951.7 L628.0,943.0 L629.0,934.2 L630.0,925.1 L631.0,916.1 L632.0,907.6 L633.0,901.1 L634.0,896.4 L635.0,892.0 L636.0,887.7 L637.0,883.2 L638.0,878.7 L639.0,874.2 L640.0,869.6 L641.0,864.5 L642.0,859.0 L643.0,853.4 L644.0,847.6 L645.0,841.6 L646.0,835.6 L647.0,830.5 L648.0,826.8 L649.0,823.3 L650.0,819.9 L651.0,816.4 L652.0,812.6 L653.0,808.5 L654.0,804.3 L655.0,799.5 L656.0,792.3 L657.0,779.4 L658.0,761.5 L659.0,745.1 L660.0,731.3 L661.0,720.0 L662.0,714.0 L663.0,710.4 L664.0,709.1 L665.0,708.7 L666.0,708.8 L667.0,709.0 L668.0,709.1 L669.0,709.3 L670.0,709.6 L671.0,710.0 L672.0,710.3 L673.0,710.7 L674.0,711.0 L675.0,711.1 L676.0,711.2 L677.0,711.3 L678.0,711.4 L679.0,711.5 L680.0,711.6 L681.0,711.7 L682.0,711.8 L683.0,711.9 L684.0,712.4 L685.0,712.9 L686.0,713.6 L687.0,714.4 L688.0,715.1 L689.0,716.2 L690.0,717.7 L691.0,719.4 L692.0,720.8 L693.0,721.7 L694.0,721.3 L695.0,720.6 L696.0,719.8 L697.0,719.0 L698.0,718.2 L699.0,717.4 L700.0,716.9 L701.0,716.3 L702.0,715.8 L703.0,715.3 L704.0,714.8 L705.0,714.4 L706.0,713.9 L707.0,713.5 L708.0,713.1 L709.0,712.7 L710.0,712.3 L711.0,712.0 L712.0,711.6 L713.0,711.2 L714.0,710.8 L715.0,710.3 L716.0,709.7 L717.0,709.2 L718.0,708.7 L719.0,708.3 L720.0,708.1 L721.0,707.9 L722.0,707.7 L723.0,707.6 L724.0,707.5 L725.0,707.8 L726.0,708.5 L727.0,709.3 L728.0,710.2 L729.0,711.2 L730.0,712.4 L731.0,714.3 L732.0,716.3 L733.0,718.5 L734.0,720.6 L735.0,722.6 L736.0,724.2 L737.0,725.8 L738.0,727.3 L739.0,728.8 L740.0,730.3 L741.0,731.7 L742.0,733.1 L743.0,734.3 L744.0,735.5 L745.0,736.6 L746.0,737.7 L747.0,738.8 L748.0,739.7 L749.0,740.4 L750.0,740.6 L751.0,740.6 L752.0,740.6 L753.0,740.6 L754.0,740.6 L755.0,740.5 L756.0,740.2 L757.0,739.7 L758.0,739.2 L759.0,738.8 L760.0,739.2 L761.0,739.9 L762.0,740.9 L763.0,741.8 L764.0,742.8 L765.0,743.8 L766.0,744.4 L767.0,745.0 L768.0,745.6 L769.0,746.2 L770.0,746.8 L771.0,747.3 L772.0,747.8 L773.0,748.2 L774.0,748.5 L775.0,748.4 L776.0,747.7 L777.0,746.9 L778.0,745.9 L779.0,744.9 L780.0,744.0 L781.0,743.0 L782.0,741.8 L783.0,740.7 L784.0,739.7 L785.0,738.9 L786.0,738.8 L787.0,738.8 L788.0,738.8 L789.0,738.8 L790.0,738.8 L791.0,739.2 L792.0,740.5 L793.0,742.3 L794.0,744.2 L795.0,745.8 L796.0,747.0 L797.0,748.2 L798.0,749.2 L799.0,750.1 L800.0,750.3 L801.0,750.0 L802.0,749.5 L803.0,749.0 L804.0,748.4 L805.0,747.7 L806.0,745.8 L807.0,743.6 L808.0,741.1 L809.0,738.6 L810.0,736.0 L811.0,733.2 L812.0,730.2 L813.0,727.1 L814.0,724.1 L815.0,721.1 L816.0,718.3 L817.0,715.8 L818.0,713.2 L819.0,710.8 L820.0,708.6 L821.0,706.7 L822.0,705.6 L823.0,704.7 L824.0,703.9 L825.0,703.2 L826.0,703.0 L827.0,703.3 L828.0,703.6 L829.0,703.9 L830.0,704.3 L831.0,704.8 L832.0,706.1 L833.0,707.8 L834.0,709.4 L835.0,710.7 L836.0,710.9 L837.0,710.6 L838.0,710.3 L839.0,709.9 L840.0,709.4 L841.0,709.0 L842.0,708.6 L843.0,708.1 L844.0,707.6 L845.0,707.1 L846.0,706.6 L847.0,706.1 L848.0,705.6 L849.0,705.1 L850.0,704.7 L851.0,704.3 L852.0,704.0 L853.0,703.7 L854.0,703.4 L855.0,703.1 L856.0,703.0 L857.0,704.3 L858.0,706.2 L859.0,708.4 L860.0,710.8 L861.0,713.5 L862.0,716.8 L863.0,720.3 L864.0,723.8 L865.0,727.2 L866.0,730.1 L867.0,732.2 L868.0,734.1 L869.0,735.9 L870.0,737.4 L871.0,738.4 L872.0,739.2 L873.0,739.9 L874.0,740.5 L875.0,740.3 L876.0,740.1 L877.0,739.8 L878.0,739.5 L879.0,738.2 L880.0,736.7 L881.0,735.0 L882.0,733.4 L883.0,732.1 L884.0,730.7 L885.0,729.4 L886.0,728.1 L887.0,726.8 L888.0,725.4 L889.0,724.1 L890.0,722.7 L891.0,721.4 L892.0,720.0 L893.0,718.7 L894.0,717.5 L895.0,716.4 L896.0,715.2 L897.0,714.1 L898.0,713.2 L899.0,712.6 L900.0,712.5 L901.0,712.3 L902.0,712.2 L903.0,712.2 L904.0,712.1 L905.0,712.0 L906.0,712.0 L907.0,712.1 L908.0,712.1 L909.0,712.2 L910.0,712.3 L911.0,712.5 L912.0,712.8 L913.0,715.1 L914.0,718.0 L915.0,721.2 L916.0,724.0 L917.0,726.6 L918.0,729.2 L919.0,731.6 L920.0,733.8 L921.0,735.6 L922.0,737.2 L923.0,738.8 L924.0,740.3 L925.0,741.7 L926.0,742.9 L927.0,743.9 L928.0,744.2 L929.0,743.0 L930.0,741.4 L931.0,739.6 L932.0,738.1 L933.0,736.8 L934.0,735.4 L935.0,734.1 L936.0,732.7 L937.0,731.4 L938.0,730.2 L939.0,729.0 L940.0,727.8 L941.0,726.7 L942.0,725.5 L943.0,724.4 L944.0,723.1 L945.0,721.7 L946.0,720.2 L947.0,718.8 L948.0,717.4 L949.0,716.2 L950.0,715.3 L951.0,714.4 L952.0,713.6 L953.0,713.1 L954.0,712.9 L955.0,712.8 L956.0,712.6 L957.0,712.5 L958.0,712.4 L959.0,712.3 L960.0,712.1 L961.0,712.0 L962.0,711.9 L963.0,711.8 L964.0,711.8 L965.0,711.7 L966.0,711.6 L967.0,712.1 L968.0,713.8 L969.0,716.0 L970.0,718.3 L971.0,720.6 L972.0,723.1 L973.0,725.7 L974.0,728.2 L975.0,730.4 L976.0,732.3 L977.0,734.1 L978.0,735.8 L979.0,736.7 L980.0,737.3 L981.0,737.7 L982.0,737.7 L983.0,737.1 L984.0,736.4 L985.0,735.6 L986.0,734.9 L987.0,734.1 L988.0,733.3 L989.0,732.4 L990.0,731.5 L991.0,730.7 L992.0,729.9 L993.0,729.2 L994.0,728.5 L995.0,727.8 L996.0,727.2 L997.0,726.6 L998.0,726.0 L999.0,725.4 L1000.0,724.8 L1001.0,724.3 L1002.0,723.8 L1003.0,723.3 L1004.0,722.8 L1005.0,722.4 L1006.0,722.1 L1007.0,721.9 L1008.0,721.8 L1009.0,721.8 L1010.0,721.7 L1011.0,721.7 L1012.0,721.6 L1013.0,721.6 L1014.0,721.3 L1015.0,720.8 L1016.0,720.2 L1017.0,719.6 L1018.0,718.8 L1019.0,717.4 L1020.0,715.1 L1021.0,712.7 L1022.0,710.3 L1023.0,708.4 L1024.0,706.7 L1025.0,705.0 L1026.0,703.4 L1027.0,702.0 L1028.0,701.1 L1029.0,700.4 L1030.0,699.7 L1031.0,699.1 L1032.0,698.6 L1033.0,698.1 L1034.0,698.4 L1035.0,699.0 L1036.0,699.7 L1037.0,700.5 L1038.0,701.5 L1039.0,702.4 L1040.0,703.8 L1041.0,705.5 L1042.0,707.3 L1043.0,709.2 L1044.0,711.1 L1045.0,713.1 L1046.0,715.2 L1047.0,717.2 L1048.0,719.3 L1049.0,721.2 L1050.0,722.6 L1051.0,724.0 L1052.0,725.4 L1053.0,726.6 L1054.0,727.8 L1055.0,728.9 L1056.0,729.7 L1057.0,730.3 L1058.0,731.0 L1059.0,731.6 L1060.0,732.1 L1061.0,732.4 L1062.0,732.3 L1063.0,732.1 L1064.0,731.7 L1065.0,731.4 L1066.0,731.0 L1067.0,730.6 L1068.0,729.8 L1069.0,728.9 L1070.0,727.8 L1071.0,726.7 L1072.0,725.7 L1073.0,724.6 L1074.0,723.7 L1075.0,722.7 L1076.0,721.7 L1077.0,720.7 L1078.0,719.8 L1079.0,719.0 L1080.0,718.6 L1081.0,718.2 L1082.0,717.8 L1083.0,717.5 L1084.0,717.2 L1085.0,717.0 L1086.0,717.0 L1087.0,717.0 L1088.0,717.0 L1089.0,717.0 L1090.0,717.0 L1091.0,717.0 L1092.0,717.0 L1093.0,717.0 L1094.0,717.2 L1095.0,717.5 L1096.0,717.8 L1097.0,718.2 L1098.0,718.6 L1099.0,719.0 L1100.0,719.3 L1101.0,719.7 L1102.0,720.0 L1103.0,720.4 L1104.0,720.8 L1105.0,721.1 L1106.0,721.4 L1107.0,721.5 L1108.0,721.5 L1109.0,721.5 L1110.0,721.4 L1111.0,721.4 L1112.0,721.4 L1113.0,721.3 L1114.0,721.3 L1115.0,721.2 L1116.0,721.2 L1117.0,721.1 L1118.0,721.1 L1119.0,721.1 L1120.0,721.1 L1121.0,721.0 L1122.0,721.0 L1123.0,721.0 L1124.0,721.0 L1125.0,721.0 L1126.0,721.0 L1127.0,721.0 L1128.0,721.1 L1129.0,721.4 L1130.0,721.7 L1131.0,722.0 L1132.0,722.3 L1133.0,722.6 L1134.0,722.9 L1135.0,723.3 L1136.0,723.7 L1137.0,724.1 L1138.0,724.4 L1139.0,724.5 L1140.0,724.5 L1141.0,724.4 L1142.0,724.3 L1143.0,724.2 L1144.0,724.0 L1145.0,723.8 L1146.0,723.2 L1147.0,722.5 L1148.0,721.7 L1149.0,720.8 L1150.0,720.1 L1151.0,719.5 L1152.0,719.1 L1153.0,718.7 L1154.0,718.3 L1155.0,718.0 L1156.0,717.7 L1157.0,717.6 L1158.0,717.6 L1159.0,717.6 L1160.0,717.6 L1161.0,717.6 L1162.0,717.6 L1163.0,717.6 L1164.0,717.8 L1165.0,718.0 L1166.0,718.2 L1167.0,718.5 L1168.0,718.8 L1169.0,719.1 L1170.0,719.4 L1171.0,719.7 L1172.0,720.0 L1173.0,720.4 L1174.0,720.8 L1175.0,721.1 L1176.0,721.5 L1177.0,721.9 L1178.0,722.2 L1179.0,722.4 L1180.0,722.5 L1181.0,722.1 L1182.0,721.7 L1183.0,721.3 L1184.0,720.8 L1185.0,720.3 L1186.0,719.8 L1187.0,719.4 L1188.0,719.0 L1189.0,718.7 L1190.0,718.3 L1191.0,717.9 L1192.0,717.6 L1193.0,717.3 L1194.0,717.1 L1195.0,717.0 L1196.0,717.1 L1197.0,717.3 L1198.0,717.5 L1199.0,717.7 L1200.0,717.9 L1201.0,718.1 L1202.0,718.4 L1203.0,718.7 L1204.0,719.0 L1205.0,719.3 L1206.0,719.5 L1207.0,719.6 L1208.0,719.6 L1209.0,719.6 L1210.0,719.6 L1211.0,719.6 L1212.0,719.6 L1213.0,719.6 L1214.0,719.6 L1215.0,719.6 L1216.0,719.6 L1217.0,719.6 L1218.0,719.6 L1219.0,719.6 L1220.0,719.6 L1221.0,719.6 L1222.0,719.6 L1223.0,719.6 L1224.0,719.6 L1225.0,719.6 L1226.0,719.6 L1227.0,719.7 L1228.0,720.2 L1229.0,720.7 L1230.0,721.3 L1231.0,721.9 L1232.0,722.4 L1233.0,722.7 L1234.0,722.9 L1235.0,723.1 L1236.0,723.2 L1237.0,723.4 L1238.0,723.5 L1239.0,723.5 L1240.0,723.3 L1241.0,723.1 L1242.0,722.9 L1243.0,722.7 L1244.0,722.5 L1245.0,722.2 L1246.0,722.0 L1247.0,721.8 L1248.0,721.5 L1249.0,721.3 L1250.0,721.0 L1251.0,720.7 L1252.0,720.5 L1253.0,720.2 L1254.0,720.0 L1255.0,719.8 L1256.0,719.7 L1257.0,719.5 L1258.0,719.3 L1259.0,719.2 L1260.0,719.1 L1261.0,719.0 L1262.0,719.0 L1263.0,719.1 L1264.0,719.2 L1265.0,719.4 L1266.0,719.6 L1267.0,720.1 L1268.0,720.7 L1269.0,721.4 L1270.0,722.1 L1271.0,722.8 L1272.0,723.6 L1273.0,724.4 L1274.0,725.2 L1275.0,726.1 L1276.0,726.9 L1277.0,727.8 L1278.0,728.5 L1279.0,729.2 L1280.0,729.9 L1281.0,730.5 L1282.0,731.1 L1283.0,731.5 L1284.0,731.7 L1285.0,731.8 L1286.0,731.9 L1287.0,731.5 L1288.0,731.1 L1289.0,730.6 L1290.0,730.0 L1291.0,729.4 L1292.0,728.4 L1293.0,727.2 L1294.0,726.0 L1295.0,724.8 L1296.0,723.5 L1297.0,722.4 L1298.0,721.3 L1299.0,720.3 L1300.0,719.2 L1301.0,718.2 L1302.0,717.3 L1303.0,716.5 L1304.0,715.9 L1305.0,715.3 L1306.0,714.8 L1307.0,714.3 L1308.0,713.9 L1309.0,713.6 L1310.0,713.5 L1311.0,713.4 L1312.0,713.3 L1313.0,713.2 L1314.0,713.2 L1315.0,713.5 L1316.0,713.9 L1317.0,714.3 L1318.0,714.8 L1319.0,715.2 L1320.0,715.7 L1321.0,716.4 L1322.0,717.0 L1323.0,717.7 L1324.0,718.4 L1325.0,719.1 L1326.0,719.7 L1327.0,720.1 L1328.0,720.6 L1329.0,721.1 L1330.0,721.5 L1331.0,721.8 L1332.0,721.9 L1333.0,721.8 L1334.0,721.7 L1335.0,721.6 L1336.0,721.4 L1337.0,721.3 L1338.0,721.1 L1339.0,720.8 L1340.0,720.4 L1341.0,720.1 L1342.0,719.7 L1343.0,719.4 L1344.0,719.0 L1345.0,718.7 L1346.0,718.4 L1347.0,718.1 L1348.0,717.8 L1349.0,717.5 L1350.0,717.3 L1351.0,717.2 L1352.0,717.4 L1353.0,717.5 L1354.0,717.8 L1355.0,718.0 L1356.0,718.2 L1357.0,718.4 L1358.0,718.6 L1359.0,718.7 L1360.0,718.9 L1361.0,719.0 L1362.0,719.1 L1363.0,719.2 L1364.0,719.4 L1365.0,719.5 L1366.0,719.6 L1367.0,719.7 L1368.0,719.9 L1369.0,720.0 L1370.0,720.2 L1371.0,720.3 L1372.0,720.4 L1373.0,720.5 L1374.0,720.4 L1375.0,720.0 L1376.0,719.5 L1377.0,719.0 L1378.0,718.4 L1379.0,717.8 L1380.0,717.2 L1381.0,716.5 L1382.0,715.8 L1383.0,715.1 L1384.0,714.4 L1385.0,713.8 L1386.0,713.4 L1387.0,713.1 L1388.0,712.9 L1389.0,712.6 L1390.0,712.4 L1391.0,712.2 L1392.0,712.3 L1393.0,712.4 L1394.0,712.7 L1395.0,712.9 L1396.0,713.2 L1397.0,713.5 L1398.0,713.9 L1399.0,714.4 L1400.0,715.0 L1401.0,715.6 L1402.0,716.3 L1403.0,716.9 L1404.0,717.6 L1405.0,718.3 L1406.0,719.0 L1407.0,719.7 L1408.0,720.3 L1409.0,720.8 L1410.0,721.2 L1411.0,721.6 L1412.0,721.9 L1413.0,721.8 L1414.0,721.4 L1415.0,721.0 L1416.0,720.5 L1417.0,720.1 L1418.0,719.7 L1419.0,719.4 L1420.0,719.1 L1421.0,718.8 L1422.0,718.6 L1423.0,718.3 L1424.0,718.1 L1425.0,718.0 L1426.0,718.0 L1427.0,718.1 L1428.0,718.3 L1429.0,718.4 L1430.0,718.6 L1431.0,718.8 L1432.0,718.9 L1433.0,719.1 L1434.0,719.4 L1435.0,719.6 L1436.0,720.0 L1437.0,720.3 L1438.0,720.6 L1439.0,720.9 L1440.0,721.2 L1441.0,721.5 L1442.0,721.7 L1443.0,721.8 L1444.0,722.0 L1445.0,722.1 L1446.0,722.2 L1447.0,722.3 L1448.0,722.2 L1449.0,722.0 L1450.0,721.7 L1451.0,721.3 L1452.0,721.0 L1453.0,720.6 L1454.0,720.0 L1455.0,719.2 L1456.0,718.3 L1457.0,717.4 L1458.0,716.5 L1459.0,715.7 L1460.0,715.0 L1461.0,714.3 L1462.0,713.6 L1463.0,713.0 L1464.0,712.3 L1465.0,711.7 L1466.0,711.0 L1467.0,710.3 L1468.0,709.5 L1469.0,708.8 L1470.0,708.2 L1471.0,707.6 L1472.0,707.4 L1473.0,707.1 L1474.0,706.9 L1475.0,706.6 L1476.0,706.4 L1477.0,706.2 L1478.0,706.0 L1479.0,705.8 L1480.0,705.7 L1481.0,705.5 L1482.0,705.3 L1483.0,705.2 L1484.0,705.9 L1485.0,707.0 L1486.0,708.3 L1487.0,709.6 L1488.0,711.9 L1489.0,714.5 L1490.0,717.1 L1491.0,719.6 L1492.0,721.5 L1493.0,723.3 L1494.0,725.0 L1495.0,726.6 L1496.0,727.5 L1497.0,728.4 L1498.0,729.2 L1499.0,729.9 L1500.0,730.5 L1501.0,730.7 L1502.0,730.9 L1503.0,731.1 L1504.0,731.3 L1505.0,731.4 L1506.0,731.5 L1507.0,731.1 L1508.0,730.7 L1509.0,730.2 L1510.0,729.6 L1511.0,729.0 L1512.0,728.4 L1513.0,727.8 L1514.0,727.0 L1515.0,726.3 L1516.0,725.5 L1517.0,724.8 L1518.0,724.1 L1519.0,723.5 L1520.0,723.0 L1521.0,722.5 L1522.0,722.0 L1523.0,721.5 L1524.0,721.1 L1525.0,720.7 L1526.0,720.3 L1527.0,719.9 L1528.0,719.6 L1529.0,719.4 L1530.0,719.1 L1531.0,718.9 L1532.0,718.7 L1533.0,718.5 L1534.0,718.3 L1535.0,718.1 L1536.0,718.0 L1537.0,718.0 L1538.0,717.9 L1539.0,717.8 L1540.0,717.7 L1541.0,717.6 L1542.0,717.6 L1543.0,717.6 L1544.0,717.7 L1545.0,717.8 L1546.0,717.9 L1547.0,718.1 L1548.0,718.2 L1549.0,718.4 L1550.0,718.7 L1551.0,719.2 L1552.0,719.7 L1553.0,720.3 L1554.0,721.0 L1555.0,721.6 L1556.0,722.2 L1557.0,722.7 L1558.0,723.1 L1559.0,723.5 L1560.0,724.0 L1561.0,724.4 L1562.0,724.7 L1563.0,725.0 L1564.0,725.1 L1565.0,725.1 L1566.0,725.0 L1567.0,724.9 L1568.0,724.8 L1569.0,724.7 L1570.0,724.6 L1571.0,724.5 L1572.0,724.2 L1573.0,724.0 L1574.0,723.7 L1575.0,723.4 L1576.0,723.1 L1577.0,722.9 L1578.0,722.7 L1579.0,722.5 L1580.0,722.4 L1581.0,722.3 L1582.0,722.2 L1583.0,722.1 L1584.0,722.0 L1585.0,722.0 L1586.0,722.0 L1587.0,722.4 L1588.0,722.8 L1589.0,723.3 L1590.0,723.8 L1591.0,724.3 L1592.0,724.8 L1593.0,725.5 L1594.0,726.2 L1595.0,727.0 L1596.0,727.6 L1597.0,728.2 L1598.0,728.6 L1599.0,728.9 L1600.0,729.1 L1601.0,729.3 L1602.0,729.5 L1603.0,729.4 L1604.0,729.2 L1605.0,728.9 L1606.0,728.5 L1607.0,728.1 L1608.0,727.7 L1609.0,727.1 L1610.0,726.4 L1611.0,725.5 L1612.0,724.7 L1613.0,723.8 L1614.0,722.9 L1615.0,722.1 L1616.0,721.3 L1617.0,720.5 L1618.0,719.7 L1619.0,718.9 L1620.0,718.2 L1621.0,717.7 L1622.0,717.3 L1623.0,717.0 L1624.0,716.6 L1625.0,716.3 L1626.0,716.1 L1627.0,715.9 L1628.0,715.8 L1629.0,715.7 L1630.0,715.6 L1631.0,715.6 L1632.0,715.7 L1633.0,715.9 L1634.0,716.2 L1635.0,716.5 L1636.0,716.8 L1637.0,717.1 L1638.0,717.5 L1639.0,717.8 L1640.0,718.3 L1641.0,718.7 L1642.0,719.2 L1643.0,719.6 L1644.0,720.1 L1645.0,720.5 L1646.0,720.8 L1647.0,721.1 L1648.0,721.2 L1649.0,721.4 L1650.0,721.5 L1651.0,721.7 L1652.0,721.9 L1653.0,722.2 L1654.0,722.5 L1655.0,722.4 L1656.0,722.3 L1657.0,722.1 L1658.0,721.9 L1659.0,721.8 L1660.0,721.6 L1661.0,721.4 L1662.0,721.3 L1663.0,721.1 L1664.0,721.1 L1665.0,721.0 L1666.0,720.9 L1667.0,720.9 L1668.0,720.8 L1669.0,720.8 L1670.0,720.7 L1671.0,720.6 L1672.0,720.6 L1673.0,720.5 L1674.0,720.5 L1675.0,720.5 L1676.0,720.4 L1677.0,720.4 L1678.0,720.3 L1679.0,720.3 L1680.0,720.3 L1681.0,720.2 L1682.0,720.2 L1683.0,720.1 L1684.0,720.1 L1685.0,720.0 L1686.0,719.9 L1687.0,719.9 L1688.0,719.8 L1689.0,719.7 L1690.0,719.6 L1691.0,719.5 L1692.0,719.2 L1693.0,718.9 L1694.0,718.6 L1695.0,718.3 L1696.0,718.0 L1697.0,717.6 L1698.0,717.3 L1699.0,717.1 L1700.0,716.9 L1701.0,716.6 L1702.0,716.4 L1703.0,716.2 L1704.0,716.0 L1705.0,715.8 L1706.0,715.6 L1707.0,715.6 L1708.0,715.7 L1709.0,715.8 L1710.0,715.9 L1711.0,716.0 L1712.0,716.2 L1713.0,716.3 L1714.0,716.5 L1715.0,716.7 L1716.0,716.9 L1717.0,717.1 L1718.0,717.4 L1719.0,717.7 L1720.0,717.9 L1721.0,718.2 L1722.0,718.4 L1723.0,718.7 L1724.0,718.9 L1725.0,719.1 L1726.0,719.3 L1727.0,719.5 L1728.0,719.7 L1729.0,719.9 L1730.0,720.1 L1731.0,720.2 L1732.0,720.4 L1733.0,720.6 L1734.0,720.8 L1735.0,720.9 L1736.0,720.8 L1737.0,720.3 L1738.0,719.8 L1739.0,719.2 L1740.0,718.7 L1741.0,718.5 L1742.0,718.4 L1743.0,718.2 L1744.0,718.1 L1745.0,718.1 L1746.0,718.0 L1747.0,718.0 L1748.0,718.0 L1749.0,718.0 L1750.0,718.0 L1751.0,718.0 L1752.0,718.0 L1753.0,718.0 L1754.0,718.1 L1755.0,718.2 L1756.0,718.3 L1757.0,718.5 L1758.0,718.9 L1759.0,719.5 L1760.0,720.2 L1761.0,720.9 L1762.0,721.7 L1763.0,722.3 L1764.0,722.8 L1765.0,723.2 L1766.0,723.5 L1767.0,723.9 L1768.0,724.2 L1769.0,724.5 L1770.0,724.6 L1771.0,724.7 L1772.0,724.8 L1773.0,724.9 L1774.0,724.9 L1775.0,724.8 L1776.0,724.5 L1777.0,724.2 L1778.0,723.9 L1779.0,723.5 L1780.0,723.2 L1781.0,723.0 L1782.0,722.7 L1783.0,722.5 L1784.0,722.3 L1785.0,722.1 L1786.0,722.0 L1787.0,721.9 L1788.0,721.8 L1789.0,721.8 L1790.0,721.7 L1791.0,721.7 L1792.0,721.6 L1793.0,721.6 L1794.0,721.5 L1795.0,721.5 L1796.0,721.5 L1797.0,721.5 L1798.0,721.5 L1799.0,721.5 L1800.0,721.5 L1801.0,721.5 L1802.0,721.5 L1803.0,721.4 L1804.0,721.1 L1805.0,720.8 L1806.0,720.4 L1807.0,720.0 L1808.0,719.7 L1809.0,719.3 L1810.0,719.0 L1811.0,718.8 L1812.0,718.6 L1813.0,718.4 L1814.0,718.2 L1815.0,718.1 L1816.0,718.0 L1817.0,718.0 L1818.0,718.0 L1819.0,718.1 L1820.0,718.1 L1821.0,718.2 L1822.0,718.3 L1823.0,718.3 L1824.0,718.4 L1825.0,718.4 L1826.0,718.4 L1827.0,718.4 L1828.0,718.5 L1829.0,718.5 L1830.0,718.5 L1831.0,718.5 L1832.0,718.6 L1833.0,718.6 L1834.0,718.7 L1835.0,718.7 L1836.0,718.8 L1837.0,718.9 L1838.0,719.0 L1839.0,719.1 L1840.0,719.2 L1841.0,719.4 L1842.0,719.6 L1843.0,719.9 L1844.0,720.1 L1845.0,720.4 L1846.0,720.6 L1847.0,720.7 L1848.0,720.7 L1849.0,720.7 L1850.0,720.7 L1851.0,720.7 L1852.0,720.6 L1853.0,720.6 L1854.0,720.5 L1855.0,720.4 L1856.0,720.1 L1857.0,719.9 L1858.0,719.6 L1859.0,719.3 L1860.0,719.0 L1861.0,718.8 L1862.0,718.5 L1863.0,718.3 L1864.0,718.1 L1865.0,717.8 L1866.0,717.6 L1867.0,717.4 L1868.0,717.2 L1869.0,717.1 L1870.0,717.0 L1871.0,717.1 L1872.0,717.3 L1873.0,717.5 L1874.0,717.7 L1875.0,717.9 L1876.0,718.2 L1877.0,718.4 L1878.0,718.6 L1879.0,718.8 L1880.0,719.0 L1881.0,719.2 L1882.0,719.4 L1883.0,719.6 L1884.0,719.8 L1885.0,720.0 L1886.0,720.2 L1887.0,720.4 L1888.0,720.6 L1889.0,720.8 L1890.0,720.9 L1891.0,721.1 L1892.0,721.1 L1893.0,721.1 L1894.0,721.0 L1895.0,720.9 L1896.0,720.8 L1897.0,720.6 L1898.0,720.5 L1899.0,720.3 L1900.0,720.0 L1901.0,719.8 L1902.0,719.5 L1903.0,719.3 L1904.0,719.1 L1905.0,718.9 L1906.0,718.9 L1907.0,718.9 L1908.0,718.9 L1909.0,718.8 L1910.0,718.8 L1911.0,718.8 L1912.0,718.8 L1913.0,718.8 L1914.0,718.8 L1915.0,718.8 L1916.0,718.9 L1917.0,718.9 L1918.0,719.0 L1919.0,719.1 L1920.0,719.2 L1921.0,719.5 L1922.0,719.9 L1923.0,720.2 L1924.0,720.6 L1925.0,720.9 L1926.0,721.3 L1927.0,721.6 L1928.0,722.0 L1929.0,722.3 L1930.0,722.6 L1931.0,722.8 L1932.0,722.9 L1933.0,722.8 L1934.0,722.6 L1935.0,722.4 L1936.0,722.2 L1937.0,722.0 L1938.0,721.8 L1939.0,721.5 L1940.0,721.2 L1941.0,720.9 L1942.0,720.6 L1943.0,720.3 L1943.9,720.0"/>
<path class="cv" stroke="#FA0000" d="M214.0,1190.1 L215.0,1190.1 L216.0,1190.1 L217.0,1190.1 L218.0,1190.1 L219.0,1190.1 L220.0,1190.1 L221.0,1190.1 L222.0,1190.1 L223.0,1190.1 L224.0,1190.1 L225.0,1190.1 L226.0,1190.1 L227.0,1190.1 L228.0,1190.1 L229.0,1190.1 L230.0,1190.1 L231.0,1190.1 L232.0,1190.1 L233.0,1190.1 L234.0,1190.1 L235.0,1190.1 L236.0,1190.1 L237.0,1190.1 L238.0,1190.1 L239.0,1190.1 L240.0,1190.1 L241.0,1190.1 L242.0,1190.1 L243.0,1190.1 L244.0,1190.1 L245.0,1190.1 L246.0,1190.1 L247.0,1190.1 L248.0,1190.1 L249.0,1190.1 L250.0,1190.1 L251.0,1190.1 L252.0,1190.1 L253.0,1190.1 L254.0,1190.1 L255.0,1190.1 L256.0,1190.1 L257.0,1190.1 L258.0,1190.1 L259.0,1190.1 L260.0,1190.1 L261.0,1190.1 L262.0,1190.1 L263.0,1190.1 L264.0,1190.1 L265.0,1190.1 L266.0,1190.1 L267.0,1190.1 L268.0,1190.1 L269.0,1190.1 L270.0,1190.1 L271.0,1190.1 L272.0,1190.1 L273.0,1190.1 L274.0,1190.1 L275.0,1190.1 L276.0,1190.1 L277.0,1190.1 L278.0,1190.1 L279.0,1190.1 L280.0,1190.1 L281.0,1190.1 L282.0,1190.1 L283.0,1190.1 L284.0,1190.1 L285.0,1190.1 L286.0,1190.1 L287.0,1190.1 L288.0,1190.1 L289.0,1190.1 L290.0,1190.1 L291.0,1190.1 L292.0,1190.1 L293.0,1190.1 L294.0,1190.1 L295.0,1190.1 L296.0,1190.1 L297.0,1190.1 L298.0,1190.1 L299.0,1190.1 L300.0,1190.1 L301.0,1190.1 L302.0,1190.1 L303.0,1190.1 L304.0,1190.1 L305.0,1190.1 L306.0,1190.1 L307.0,1190.1 L308.0,1190.1 L309.0,1190.1 L310.0,1190.1 L311.0,1190.1 L312.0,1190.1 L313.0,1190.1 L314.0,1190.1 L315.0,1190.1 L316.0,1190.0 L317.0,1190.0 L318.0,1190.0 L319.0,1190.0 L320.0,1189.9 L321.0,1189.9 L322.0,1189.9 L323.0,1189.8 L324.0,1189.8 L325.0,1189.8 L326.0,1189.7 L327.0,1189.7 L328.0,1189.7 L329.0,1189.7 L330.0,1189.6 L331.0,1189.6 L332.0,1189.6 L333.0,1189.6 L334.0,1189.6 L335.0,1189.7 L336.0,1189.7 L337.0,1189.7 L338.0,1189.8 L339.0,1189.8 L340.0,1189.9 L341.0,1189.9 L342.0,1190.0 L343.0,1190.0 L344.0,1190.1 L345.0,1190.1 L346.0,1190.2 L347.0,1190.2 L348.0,1190.3 L349.0,1190.3 L350.0,1190.4 L351.0,1190.4 L352.0,1190.5 L353.0,1190.5 L354.0,1190.6 L355.0,1190.6 L356.0,1190.7 L357.0,1190.7 L358.0,1190.8 L359.0,1190.9 L360.0,1190.9 L361.0,1191.0 L362.0,1191.0 L363.0,1191.1 L364.0,1191.1 L365.0,1191.2 L366.0,1191.2 L367.0,1191.3 L368.0,1191.3 L369.0,1191.4 L370.0,1191.4 L371.0,1191.4 L372.0,1191.3 L373.0,1191.3 L374.0,1191.3 L375.0,1191.3 L376.0,1191.2 L377.0,1191.2 L378.0,1191.1 L379.0,1191.1 L380.0,1191.1 L381.0,1191.0 L382.0,1191.0 L383.0,1190.9 L384.0,1190.9 L385.0,1190.8 L386.0,1190.8 L387.0,1190.7 L388.0,1190.7 L389.0,1190.6 L390.0,1190.6 L391.0,1190.5 L392.0,1190.5 L393.0,1190.5 L394.0,1190.4 L395.0,1190.4 L396.0,1190.3 L397.0,1190.3 L398.0,1190.3 L399.0,1190.2 L400.0,1190.2 L401.0,1190.2 L402.0,1190.1 L403.0,1190.1 L404.0,1190.1 L405.0,1190.1 L406.0,1190.1 L407.0,1190.1 L408.0,1190.1 L409.0,1190.1 L410.0,1190.1 L411.0,1190.2 L412.0,1190.2 L413.0,1190.2 L414.0,1190.2 L415.0,1190.2 L416.0,1190.2 L417.0,1190.2 L418.0,1190.2 L419.0,1190.2 L420.0,1190.2 L421.0,1190.2 L422.0,1190.2 L423.0,1190.2 L424.0,1190.2 L425.0,1190.2 L426.0,1190.2 L427.0,1190.2 L428.0,1190.2 L429.0,1190.2 L430.0,1190.2 L431.0,1190.2 L432.0,1190.2 L433.0,1190.2 L434.0,1190.2 L435.0,1190.2 L436.0,1190.2 L437.0,1190.2 L438.0,1190.2 L439.0,1190.2 L440.0,1190.3 L441.0,1190.3 L442.0,1190.3 L443.0,1190.3 L444.0,1190.3 L445.0,1190.3 L446.0,1190.3 L447.0,1190.3 L448.0,1190.3 L449.0,1190.3 L450.0,1190.3 L451.0,1190.3 L452.0,1190.3 L453.0,1190.3 L454.0,1190.3 L455.0,1190.3 L456.0,1190.3 L457.0,1190.3 L458.0,1190.3 L459.0,1190.3 L460.0,1190.3 L461.0,1190.3 L462.0,1190.3 L463.0,1190.4 L464.0,1190.4 L465.0,1190.4 L466.0,1190.4 L467.0,1190.4 L468.0,1190.4 L469.0,1190.4 L470.0,1190.4 L471.0,1190.4 L472.0,1190.4 L473.0,1190.4 L474.0,1190.4 L475.0,1190.4 L476.0,1190.4 L477.0,1190.4 L478.0,1190.4 L479.0,1190.4 L480.0,1190.4 L481.0,1190.4 L482.0,1190.4 L483.0,1190.4 L484.0,1190.4 L485.0,1190.4 L486.0,1190.4 L487.0,1190.4 L488.0,1190.5 L489.0,1190.5 L490.0,1190.5 L491.0,1190.5 L492.0,1190.5 L493.0,1190.5 L494.0,1190.5 L495.0,1190.5 L496.0,1190.5 L497.0,1190.5 L498.0,1190.5 L499.0,1190.5 L500.0,1190.5 L501.0,1190.5 L502.0,1190.5 L503.0,1190.5 L504.0,1190.5 L505.0,1190.5 L506.0,1190.5 L507.0,1190.5 L508.0,1190.5 L509.0,1190.5 L510.0,1190.5 L511.0,1190.5 L512.0,1190.5 L513.0,1190.5 L514.0,1190.5 L515.0,1190.5 L516.0,1190.5 L517.0,1190.4 L518.0,1190.3 L519.0,1190.2 L520.0,1190.1 L521.0,1189.8 L522.0,1189.3 L523.0,1188.9 L524.0,1188.3 L525.0,1187.7 L526.0,1187.1 L527.0,1186.4 L528.0,1185.7 L529.0,1184.1 L530.0,1182.0 L531.0,1179.8 L532.0,1177.4 L533.0,1175.0 L534.0,1172.3 L535.0,1169.4 L536.0,1166.4 L537.0,1163.4 L538.0,1160.2 L539.0,1156.9 L540.0,1152.7 L541.0,1148.5 L542.0,1144.1 L543.0,1139.4 L544.0,1134.5 L545.0,1128.3 L546.0,1120.2 L547.0,1111.5 L548.0,1101.1 L549.0,1090.0 L550.0,1081.1 L551.0,1072.9 L552.0,1063.7 L553.0,1054.8 L554.0,1051.3 L555.0,1048.3 L556.0,1045.6 L557.0,1043.1 L558.0,1040.9 L559.0,1039.5 L560.0,1038.7 L561.0,1038.1 L562.0,1038.4 L563.0,1039.0 L564.0,1039.6 L565.0,1040.2 L566.0,1041.2 L567.0,1042.2 L568.0,1043.2 L569.0,1044.4 L570.0,1045.6 L571.0,1046.9 L572.0,1049.4 L573.0,1052.4 L574.0,1055.6 L575.0,1058.9 L576.0,1062.2 L577.0,1066.0 L578.0,1069.7 L579.0,1072.9 L580.0,1074.5 L581.0,1075.9 L582.0,1077.1 L583.0,1078.1 L584.0,1078.8 L585.0,1079.0 L586.0,1079.2 L587.0,1079.4 L588.0,1079.6 L589.0,1079.4 L590.0,1079.2 L591.0,1079.0 L592.0,1078.7 L593.0,1078.4 L594.0,1078.1 L595.0,1077.8 L596.0,1077.6 L597.0,1077.3 L598.0,1077.0 L599.0,1076.8 L600.0,1076.5 L601.0,1076.2 L602.0,1075.9 L603.0,1075.5 L604.0,1075.2 L605.0,1074.5 L606.0,1073.7 L607.0,1072.7 L608.0,1071.7 L609.0,1070.5 L610.0,1068.8 L611.0,1066.2 L612.0,1062.9 L613.0,1053.7 L614.0,1023.6 L615.0,1014.6 L616.0,997.4 L617.0,973.3 L618.0,950.6 L619.0,930.5 L620.0,910.7 L621.0,890.8 L622.0,870.8 L623.0,850.8 L624.0,830.7 L625.0,810.6 L626.0,791.2 L627.0,773.4 L628.0,754.3 L629.0,729.0 L630.0,706.7 L631.0,687.1 L632.0,675.3 L633.0,665.4 L634.0,656.9 L635.0,650.2 L636.0,644.3 L637.0,641.2 L638.0,639.7 L639.0,638.6 L640.0,638.9 L641.0,639.6 L642.0,640.4 L643.0,641.4 L644.0,642.6 L645.0,644.3 L646.0,646.3 L647.0,648.6 L648.0,652.5 L649.0,657.5 L650.0,662.8 L651.0,667.9 L652.0,672.8 L653.0,677.8 L654.0,682.4 L655.0,685.9 L656.0,688.8 L657.0,691.5 L658.0,694.0 L659.0,695.8 L660.0,697.4 L661.0,698.8 L662.0,699.3 L663.0,699.7 L664.0,699.9 L665.0,699.6 L666.0,699.1 L667.0,698.6 L668.0,698.0 L669.0,697.3 L670.0,696.3 L671.0,695.1 L672.0,693.9 L673.0,692.5 L674.0,690.6 L675.0,687.2 L676.0,683.2 L677.0,679.0 L678.0,674.8 L679.0,670.1 L680.0,665.3 L681.0,661.0 L682.0,658.5 L683.0,656.6 L684.0,654.9 L685.0,653.3 L686.0,651.9 L687.0,650.7 L688.0,650.0 L689.0,649.2 L690.0,648.5 L691.0,647.9 L692.0,647.3 L693.0,646.8 L694.0,646.6 L695.0,647.2 L696.0,647.9 L697.0,648.9 L698.0,649.8 L699.0,650.8 L700.0,651.9 L701.0,653.1 L702.0,654.4 L703.0,655.7 L704.0,657.0 L705.0,658.3 L706.0,659.5 L707.0,660.5 L708.0,661.4 L709.0,662.3 L710.0,663.2 L711.0,664.0 L712.0,664.8 L713.0,665.6 L714.0,666.3 L715.0,666.9 L716.0,667.3 L717.0,667.6 L718.0,667.8 L719.0,668.1 L720.0,668.3 L721.0,668.5 L722.0,668.7 L723.0,668.9 L724.0,668.7 L725.0,668.1 L726.0,667.4 L727.0,666.6 L728.0,665.8 L729.0,665.0 L730.0,664.1 L731.0,663.0 L732.0,661.9 L733.0,660.7 L734.0,659.5 L735.0,658.2 L736.0,656.4 L737.0,654.4 L738.0,652.3 L739.0,650.2 L740.0,648.2 L741.0,646.6 L742.0,645.1 L743.0,643.7 L744.0,642.4 L745.0,641.1 L746.0,640.1 L747.0,639.5 L748.0,638.9 L749.0,638.3 L750.0,637.8 L751.0,637.3 L752.0,636.9 L753.0,636.7 L754.0,636.8 L755.0,637.1 L756.0,637.4 L757.0,637.7 L758.0,638.0 L759.0,638.2 L760.0,638.4 L761.0,637.9 L762.0,637.0 L763.0,636.0 L764.0,634.8 L765.0,633.7 L766.0,632.5 L767.0,631.5 L768.0,630.9 L769.0,630.3 L770.0,629.7 L771.0,629.1 L772.0,628.6 L773.0,628.2 L774.0,627.8 L775.0,627.8 L776.0,628.1 L777.0,628.5 L778.0,628.9 L779.0,629.3 L780.0,629.7 L781.0,630.1 L782.0,630.5 L783.0,630.8 L784.0,631.1 L785.0,631.3 L786.0,631.6 L787.0,631.9 L788.0,632.0 L789.0,632.1 L790.0,631.3 L791.0,630.4 L792.0,629.2 L793.0,628.0 L794.0,626.4 L795.0,624.2 L796.0,622.1 L797.0,620.4 L798.0,619.7 L799.0,619.0 L800.0,618.4 L801.0,618.0 L802.0,618.0 L803.0,618.4 L804.0,618.9 L805.0,619.4 L806.0,620.0 L807.0,621.1 L808.0,623.7 L809.0,626.8 L810.0,630.2 L811.0,634.5 L812.0,639.7 L813.0,644.9 L814.0,649.5 L815.0,652.9 L816.0,656.1 L817.0,658.9 L818.0,660.4 L819.0,661.2 L820.0,662.0 L821.0,662.7 L822.0,663.2 L823.0,663.5 L824.0,663.3 L825.0,663.0 L826.0,662.6 L827.0,662.3 L828.0,661.8 L829.0,660.9 L830.0,659.5 L831.0,658.0 L832.0,656.5 L833.0,655.2 L834.0,654.5 L835.0,654.2 L836.0,654.0 L837.0,653.8 L838.0,653.7 L839.0,654.0 L840.0,654.5 L841.0,655.1 L842.0,655.8 L843.0,656.5 L844.0,657.1 L845.0,657.5 L846.0,658.0 L847.0,658.4 L848.0,658.8 L849.0,659.2 L850.0,659.6 L851.0,659.8 L852.0,659.8 L853.0,659.3 L854.0,658.7 L855.0,658.0 L856.0,657.2 L857.0,656.2 L858.0,653.6 L859.0,650.5 L860.0,647.2 L861.0,643.6 L862.0,639.5 L863.0,635.3 L864.0,631.5 L865.0,629.1 L866.0,626.9 L867.0,624.9 L868.0,623.2 L869.0,622.0 L870.0,621.2 L871.0,620.6 L872.0,620.0 L873.0,619.6 L874.0,619.7 L875.0,619.7 L876.0,619.7 L877.0,620.5 L878.0,621.6 L879.0,622.8 L880.0,624.2 L881.0,625.5 L882.0,626.7 L883.0,627.9 L884.0,629.0 L885.0,630.2 L886.0,631.3 L887.0,632.5 L888.0,633.8 L889.0,635.2 L890.0,636.8 L891.0,638.4 L892.0,639.9 L893.0,641.4 L894.0,642.7 L895.0,643.7 L896.0,644.6 L897.0,645.5 L898.0,646.3 L899.0,647.1 L900.0,647.6 L901.0,647.9 L902.0,648.1 L903.0,648.2 L904.0,648.4 L905.0,648.5 L906.0,648.6 L907.0,648.6 L908.0,648.6 L909.0,648.6 L910.0,648.6 L911.0,648.6 L912.0,648.3 L913.0,645.9 L914.0,642.6 L915.0,639.1 L916.0,636.3 L917.0,634.5 L918.0,632.7 L919.0,631.1 L920.0,629.5 L921.0,627.9 L922.0,626.4 L923.0,625.0 L924.0,623.5 L925.0,622.1 L926.0,620.8 L927.0,619.7 L928.0,619.3 L929.0,620.2 L930.0,621.5 L931.0,622.9 L932.0,624.3 L933.0,625.8 L934.0,627.0 L935.0,628.0 L936.0,629.0 L937.0,630.0 L938.0,630.9 L939.0,631.9 L940.0,633.0 L941.0,634.3 L942.0,635.7 L943.0,637.0 L944.0,638.4 L945.0,639.7 L946.0,641.1 L947.0,642.5 L948.0,644.0 L949.0,645.5 L950.0,646.9 L951.0,648.0 L952.0,648.7 L953.0,648.8 L954.0,649.0 L955.0,649.1 L956.0,649.2 L957.0,649.3 L958.0,649.4 L959.0,649.5 L960.0,649.7 L961.0,649.8 L962.0,650.0 L963.0,650.1 L964.0,650.3 L965.0,650.4 L966.0,650.6 L967.0,650.0 L968.0,648.1 L969.0,645.5 L970.0,642.7 L971.0,640.0 L972.0,637.7 L973.0,635.6 L974.0,633.6 L975.0,631.6 L976.0,629.7 L977.0,628.1 L978.0,626.7 L979.0,625.3 L980.0,624.1 L981.0,623.1 L982.0,622.9 L983.0,623.4 L984.0,624.1 L985.0,624.8 L986.0,625.6 L987.0,626.4 L988.0,627.1 L989.0,627.9 L990.0,628.8 L991.0,629.7 L992.0,630.5 L993.0,631.3 L994.0,632.0 L995.0,632.7 L996.0,633.3 L997.0,634.0 L998.0,634.6 L999.0,635.2 L1000.0,635.8 L1001.0,636.4 L1002.0,637.0 L1003.0,637.7 L1004.0,638.3 L1005.0,639.0 L1006.0,639.6 L1007.0,640.1 L1008.0,640.5 L1009.0,640.6 L1010.0,640.4 L1011.0,640.1 L1012.0,639.9 L1013.0,639.7 L1014.0,639.7 L1015.0,639.9 L1016.0,640.2 L1017.0,640.5 L1018.0,642.1 L1019.0,645.1 L1020.0,648.6 L1021.0,651.7 L1022.0,653.4 L1023.0,654.5 L1024.0,655.6 L1025.0,656.5 L1026.0,657.4 L1027.0,658.3 L1028.0,659.0 L1029.0,659.7 L1030.0,660.4 L1031.0,661.1 L1032.0,661.6 L1033.0,662.1 L1034.0,661.8 L1035.0,661.0 L1036.0,660.1 L1037.0,659.1 L1038.0,658.0 L1039.0,656.9 L1040.0,655.3 L1041.0,653.4 L1042.0,651.3 L1043.0,649.2 L1044.0,647.1 L1045.0,645.1 L1046.0,643.3 L1047.0,641.5 L1048.0,639.8 L1049.0,638.1 L1050.0,636.5 L1051.0,635.0 L1052.0,633.9 L1053.0,633.0 L1054.0,632.1 L1055.0,631.2 L1056.0,630.5 L1057.0,629.8 L1058.0,629.5 L1059.0,629.2 L1060.0,629.0 L1061.0,628.9 L1062.0,628.7 L1063.0,628.7 L1064.0,628.8 L1065.0,628.9 L1066.0,629.0 L1067.0,629.1 L1068.0,629.7 L1069.0,630.5 L1070.0,631.5 L1071.0,632.5 L1072.0,633.6 L1073.0,634.6 L1074.0,635.6 L1075.0,636.6 L1076.0,637.6 L1077.0,638.7 L1078.0,639.7 L1079.0,640.6 L1080.0,641.3 L1081.0,641.9 L1082.0,642.6 L1083.0,643.1 L1084.0,643.6 L1085.0,643.8 L1086.0,643.9 L1087.0,644.0 L1088.0,644.2 L1089.0,644.2 L1090.0,644.1 L1091.0,644.0 L1092.0,643.8 L1093.0,643.6 L1094.0,643.3 L1095.0,643.1 L1096.0,642.9 L1097.0,642.6 L1098.0,642.3 L1099.0,641.9 L1100.0,641.5 L1101.0,641.1 L1102.0,640.6 L1103.0,640.3 L1104.0,639.9 L1105.0,639.6 L1106.0,639.6 L1107.0,639.5 L1108.0,639.4 L1109.0,639.3 L1110.0,639.3 L1111.0,639.2 L1112.0,639.2 L1113.0,639.1 L1114.0,639.1 L1115.0,639.1 L1116.0,639.1 L1117.0,639.2 L1118.0,639.3 L1119.0,639.4 L1120.0,639.5 L1121.0,639.5 L1122.0,639.6 L1123.0,639.6 L1124.0,639.6 L1125.0,639.5 L1126.0,639.3 L1127.0,639.2 L1128.0,639.1 L1129.0,638.9 L1130.0,638.8 L1131.0,638.6 L1132.0,638.4 L1133.0,638.2 L1134.0,637.9 L1135.0,637.6 L1136.0,637.4 L1137.0,637.1 L1138.0,636.9 L1139.0,636.6 L1140.0,636.4 L1141.0,636.2 L1142.0,636.1 L1143.0,635.9 L1144.0,635.7 L1145.0,635.7 L1146.0,636.1 L1147.0,636.5 L1148.0,637.1 L1149.0,637.7 L1150.0,638.2 L1151.0,638.8 L1152.0,639.5 L1153.0,640.3 L1154.0,641.0 L1155.0,641.7 L1156.0,642.3 L1157.0,642.7 L1158.0,642.8 L1159.0,642.8 L1160.0,642.9 L1161.0,643.0 L1162.0,643.0 L1163.0,643.0 L1164.0,642.9 L1165.0,642.8 L1166.0,642.6 L1167.0,642.4 L1168.0,642.2 L1169.0,642.0 L1170.0,641.8 L1171.0,641.5 L1172.0,641.2 L1173.0,640.8 L1174.0,640.3 L1175.0,639.9 L1176.0,639.5 L1177.0,639.1 L1178.0,638.8 L1179.0,638.7 L1180.0,639.0 L1181.0,639.3 L1182.0,639.7 L1183.0,640.1 L1184.0,640.6 L1185.0,641.0 L1186.0,641.4 L1187.0,641.8 L1188.0,642.1 L1189.0,642.5 L1190.0,642.9 L1191.0,643.3 L1192.0,643.6 L1193.0,643.9 L1194.0,644.1 L1195.0,644.2 L1196.0,644.0 L1197.0,643.7 L1198.0,643.5 L1199.0,643.2 L1200.0,642.9 L1201.0,642.5 L1202.0,642.2 L1203.0,642.0 L1204.0,641.7 L1205.0,641.6 L1206.0,641.5 L1207.0,641.5 L1208.0,641.4 L1209.0,641.3 L1210.0,641.3 L1211.0,641.2 L1212.0,641.1 L1213.0,641.1 L1214.0,641.1 L1215.0,641.1 L1216.0,641.1 L1217.0,641.2 L1218.0,641.2 L1219.0,641.3 L1220.0,641.4 L1221.0,641.5 L1222.0,641.5 L1223.0,641.6 L1224.0,641.6 L1225.0,641.5 L1226.0,641.2 L1227.0,640.8 L1228.0,640.4 L1229.0,639.9 L1230.0,639.5 L1231.0,639.1 L1232.0,638.8 L1233.0,638.6 L1234.0,638.5 L1235.0,638.5 L1236.0,638.4 L1237.0,638.4 L1238.0,638.3 L1239.0,638.3 L1240.0,638.3 L1241.0,638.3 L1242.0,638.5 L1243.0,638.6 L1244.0,638.8 L1245.0,639.0 L1246.0,639.2 L1247.0,639.4 L1248.0,639.6 L1249.0,639.8 L1250.0,640.0 L1251.0,640.2 L1252.0,640.4 L1253.0,640.6 L1254.0,640.7 L1255.0,640.9 L1256.0,641.0 L1257.0,641.0 L1258.0,641.0 L1259.0,641.0 L1260.0,641.0 L1261.0,640.9 L1262.0,640.6 L1263.0,640.4 L1264.0,640.1 L1265.0,639.7 L1266.0,639.4 L1267.0,639.0 L1268.0,638.6 L1269.0,637.9 L1270.0,637.1 L1271.0,636.2 L1272.0,635.2 L1273.0,634.3 L1274.0,633.3 L1275.0,632.5 L1276.0,631.7 L1277.0,631.1 L1278.0,630.6 L1279.0,630.0 L1280.0,629.6 L1281.0,629.1 L1282.0,628.7 L1283.0,628.4 L1284.0,628.1 L1285.0,627.9 L1286.0,627.7 L1287.0,628.1 L1288.0,628.5 L1289.0,629.0 L1290.0,629.6 L1291.0,630.2 L1292.0,630.8 L1293.0,632.0 L1294.0,633.3 L1295.0,634.7 L1296.0,636.1 L1297.0,637.5 L1298.0,638.8 L1299.0,639.9 L1300.0,641.0 L1301.0,642.1 L1302.0,643.1 L1303.0,644.0 L1304.0,644.7 L1305.0,645.0 L1306.0,645.3 L1307.0,645.6 L1308.0,645.9 L1309.0,646.1 L1310.0,646.3 L1311.0,646.5 L1312.0,646.6 L1313.0,646.2 L1314.0,645.8 L1315.0,645.2 L1316.0,644.6 L1317.0,644.1 L1318.0,643.5 L1319.0,642.8 L1320.0,642.1 L1321.0,641.4 L1322.0,640.7 L1323.0,640.1 L1324.0,639.6 L1325.0,639.3 L1326.0,639.0 L1327.0,638.7 L1328.0,638.4 L1329.0,638.2 L1330.0,637.9 L1331.0,637.8 L1332.0,637.7 L1333.0,637.9 L1334.0,638.1 L1335.0,638.4 L1336.0,638.6 L1337.0,638.9 L1338.0,639.2 L1339.0,639.5 L1340.0,639.7 L1341.0,639.9 L1342.0,640.2 L1343.0,640.4 L1344.0,640.6 L1345.0,640.9 L1346.0,641.1 L1347.0,641.3 L1348.0,641.4 L1349.0,641.6 L1350.0,641.6 L1351.0,641.5 L1352.0,641.4 L1353.0,641.3 L1354.0,641.1 L1355.0,641.0 L1356.0,640.8 L1357.0,640.6 L1358.0,640.5 L1359.0,640.3 L1360.0,640.2 L1361.0,640.0 L1362.0,639.9 L1363.0,639.7 L1364.0,639.6 L1365.0,639.4 L1366.0,639.3 L1367.0,639.1 L1368.0,639.0 L1369.0,638.9 L1370.0,638.8 L1371.0,638.7 L1372.0,638.7 L1373.0,639.0 L1374.0,639.3 L1375.0,639.7 L1376.0,640.1 L1377.0,640.5 L1378.0,640.9 L1379.0,641.6 L1380.0,642.3 L1381.0,643.0 L1382.0,643.7 L1383.0,644.4 L1384.0,644.8 L1385.0,645.2 L1386.0,645.6 L1387.0,646.0 L1388.0,646.3 L1389.0,646.5 L1390.0,646.5 L1391.0,646.4 L1392.0,646.2 L1393.0,645.9 L1394.0,645.6 L1395.0,645.4 L1396.0,645.1 L1397.0,644.8 L1398.0,644.3 L1399.0,643.7 L1400.0,643.1 L1401.0,642.4 L1402.0,641.7 L1403.0,641.0 L1404.0,640.4 L1405.0,639.8 L1406.0,639.5 L1407.0,639.2 L1408.0,639.0 L1409.0,638.8 L1410.0,638.6 L1411.0,638.4 L1412.0,638.3 L1413.0,638.4 L1414.0,638.6 L1415.0,638.9 L1416.0,639.2 L1417.0,639.5 L1418.0,639.9 L1419.0,640.2 L1420.0,640.4 L1421.0,640.6 L1422.0,640.9 L1423.0,641.1 L1424.0,641.3 L1425.0,641.5 L1426.0,641.6 L1427.0,641.6 L1428.0,641.5 L1429.0,641.3 L1430.0,641.2 L1431.0,641.0 L1432.0,640.9 L1433.0,640.7 L1434.0,640.5 L1435.0,640.2 L1436.0,639.9 L1437.0,639.7 L1438.0,639.4 L1439.0,639.1 L1440.0,638.9 L1441.0,638.7 L1442.0,638.6 L1443.0,638.5 L1444.0,638.5 L1445.0,638.4 L1446.0,638.3 L1447.0,638.3 L1448.0,638.3 L1449.0,638.4 L1450.0,638.7 L1451.0,639.0 L1452.0,639.4 L1453.0,639.8 L1454.0,640.2 L1455.0,640.6 L1456.0,641.2 L1457.0,641.8 L1458.0,642.5 L1459.0,643.2 L1460.0,643.9 L1461.0,644.6 L1462.0,645.1 L1463.0,645.6 L1464.0,646.1 L1465.0,646.6 L1466.0,647.0 L1467.0,647.6 L1468.0,648.2 L1469.0,648.9 L1470.0,649.6 L1471.0,650.3 L1472.0,650.9 L1473.0,651.6 L1474.0,652.1 L1475.0,652.6 L1476.0,653.1 L1477.0,653.5 L1478.0,653.9 L1479.0,654.2 L1480.0,654.0 L1481.0,653.7 L1482.0,653.4 L1483.0,653.0 L1484.0,652.6 L1485.0,651.1 L1486.0,649.1 L1487.0,646.9 L1488.0,644.6 L1489.0,642.6 L1490.0,641.0 L1491.0,639.4 L1492.0,637.8 L1493.0,636.3 L1494.0,634.9 L1495.0,633.7 L1496.0,632.9 L1497.0,632.1 L1498.0,631.4 L1499.0,630.8 L1500.0,630.2 L1501.0,629.7 L1502.0,629.4 L1503.0,629.2 L1504.0,629.0 L1505.0,628.8 L1506.0,628.7 L1507.0,629.0 L1508.0,629.4 L1509.0,629.8 L1510.0,630.3 L1511.0,630.8 L1512.0,631.3 L1513.0,632.0 L1514.0,632.6 L1515.0,633.3 L1516.0,633.9 L1517.0,634.6 L1518.0,635.2 L1519.0,635.7 L1520.0,636.1 L1521.0,636.5 L1522.0,636.9 L1523.0,637.3 L1524.0,637.7 L1525.0,638.0 L1526.0,638.4 L1527.0,638.7 L1528.0,639.0 L1529.0,639.4 L1530.0,639.7 L1531.0,640.0 L1532.0,640.3 L1533.0,640.6 L1534.0,640.9 L1535.0,641.1 L1536.0,641.2 L1537.0,641.3 L1538.0,641.3 L1539.0,641.4 L1540.0,641.5 L1541.0,641.6 L1542.0,641.6 L1543.0,641.6 L1544.0,641.4 L1545.0,641.2 L1546.0,641.0 L1547.0,640.7 L1548.0,640.4 L1549.0,640.2 L1550.0,639.9 L1551.0,639.5 L1552.0,639.1 L1553.0,638.7 L1554.0,638.3 L1555.0,637.8 L1556.0,637.4 L1557.0,636.9 L1558.0,636.5 L1559.0,636.2 L1560.0,635.9 L1561.0,635.5 L1562.0,635.3 L1563.0,635.0 L1564.0,634.8 L1565.0,634.7 L1566.0,634.7 L1567.0,634.8 L1568.0,634.8 L1569.0,634.9 L1570.0,634.9 L1571.0,635.0 L1572.0,635.0 L1573.0,635.1 L1574.0,635.4 L1575.0,635.6 L1576.0,635.9 L1577.0,636.2 L1578.0,636.5 L1579.0,636.8 L1580.0,637.0 L1581.0,637.1 L1582.0,637.1 L1583.0,637.1 L1584.0,637.1 L1585.0,637.1 L1586.0,637.1 L1587.0,637.1 L1588.0,637.1 L1589.0,636.9 L1590.0,636.5 L1591.0,635.9 L1592.0,635.2 L1593.0,634.6 L1594.0,634.0 L1595.0,633.5 L1596.0,633.1 L1597.0,632.7 L1598.0,632.4 L1599.0,632.0 L1600.0,631.8 L1601.0,631.7 L1602.0,631.8 L1603.0,631.9 L1604.0,632.0 L1605.0,632.1 L1606.0,632.2 L1607.0,632.5 L1608.0,633.0 L1609.0,633.5 L1610.0,634.1 L1611.0,634.8 L1612.0,635.4 L1613.0,636.1 L1614.0,636.9 L1615.0,637.8 L1616.0,638.7 L1617.0,639.5 L1618.0,640.3 L1619.0,641.0 L1620.0,641.5 L1621.0,642.1 L1622.0,642.6 L1623.0,643.1 L1624.0,643.5 L1625.0,643.7 L1626.0,643.8 L1627.0,644.0 L1628.0,644.1 L1629.0,644.1 L1630.0,644.2 L1631.0,644.2 L1632.0,644.0 L1633.0,643.8 L1634.0,643.6 L1635.0,643.4 L1636.0,643.2 L1637.0,642.9 L1638.0,642.7 L1639.0,642.4 L1640.0,642.0 L1641.0,641.6 L1642.0,641.2 L1643.0,640.8 L1644.0,640.4 L1645.0,640.1 L1646.0,639.7 L1647.0,639.5 L1648.0,639.4 L1649.0,639.3 L1650.0,639.1 L1651.0,639.0 L1652.0,638.9 L1653.0,638.8 L1654.0,638.7 L1655.0,638.6 L1656.0,638.5 L1657.0,638.4 L1658.0,638.3 L1659.0,638.3 L1660.0,638.3 L1661.0,638.4 L1662.0,638.6 L1663.0,638.7 L1664.0,638.8 L1665.0,638.9 L1666.0,639.0 L1667.0,639.0 L1668.0,639.0 L1669.0,638.9 L1670.0,638.8 L1671.0,638.7 L1672.0,638.6 L1673.0,638.5 L1674.0,638.4 L1675.0,638.4 L1676.0,638.3 L1677.0,638.3 L1678.0,638.3 L1679.0,638.4 L1680.0,638.4 L1681.0,638.5 L1682.0,638.6 L1683.0,638.7 L1684.0,638.8 L1685.0,638.9 L1686.0,639.0 L1687.0,639.1 L1688.0,639.4 L1689.0,639.7 L1690.0,640.0 L1691.0,640.4 L1692.0,640.8 L1693.0,641.1 L1694.0,641.4 L1695.0,641.7 L1696.0,642.0 L1697.0,642.3 L1698.0,642.6 L1699.0,642.8 L1700.0,643.1 L1701.0,643.3 L1702.0,643.5 L1703.0,643.7 L1704.0,643.7 L1705.0,643.8 L1706.0,643.8 L1707.0,643.9 L1708.0,643.9 L1709.0,644.0 L1710.0,644.0 L1711.0,644.0 L1712.0,643.9 L1713.0,643.7 L1714.0,643.5 L1715.0,643.4 L1716.0,643.2 L1717.0,643.0 L1718.0,642.7 L1719.0,642.5 L1720.0,642.2 L1721.0,641.9 L1722.0,641.6 L1723.0,641.3 L1724.0,641.0 L1725.0,640.7 L1726.0,640.4 L1727.0,640.2 L1728.0,640.0 L1729.0,639.8 L1730.0,639.6 L1731.0,639.5 L1732.0,639.3 L1733.0,639.2 L1734.0,639.1 L1735.0,639.1 L1736.0,639.3 L1737.0,639.5 L1738.0,639.7 L1739.0,639.9 L1740.0,640.2 L1741.0,640.4 L1742.0,640.6 L1743.0,640.7 L1744.0,640.7 L1745.0,640.8 L1746.0,640.9 L1747.0,640.9 L1748.0,641.0 L1749.0,641.0 L1750.0,641.0 L1751.0,641.0 L1752.0,640.8 L1753.0,640.6 L1754.0,640.3 L1755.0,640.0 L1756.0,639.8 L1757.0,639.4 L1758.0,638.9 L1759.0,638.3 L1760.0,637.8 L1761.0,637.3 L1762.0,636.8 L1763.0,636.5 L1764.0,636.3 L1765.0,636.0 L1766.0,635.8 L1767.0,635.6 L1768.0,635.4 L1769.0,635.2 L1770.0,635.1 L1771.0,635.1 L1772.0,635.2 L1773.0,635.4 L1774.0,635.5 L1775.0,635.7 L1776.0,635.9 L1777.0,636.0 L1778.0,636.2 L1779.0,636.4 L1780.0,636.7 L1781.0,637.0 L1782.0,637.3 L1783.0,637.6 L1784.0,637.8 L1785.0,638.1 L1786.0,638.2 L1787.0,638.2 L1788.0,638.2 L1789.0,638.2 L1790.0,638.1 L1791.0,638.1 L1792.0,638.1 L1793.0,638.0 L1794.0,638.0 L1795.0,637.9 L1796.0,637.9 L1797.0,637.9 L1798.0,637.9 L1799.0,638.0 L1800.0,638.2 L1801.0,638.4 L1802.0,638.6 L1803.0,638.9 L1804.0,639.1 L1805.0,639.4 L1806.0,639.6 L1807.0,639.8 L1808.0,640.0 L1809.0,640.2 L1810.0,640.4 L1811.0,640.6 L1812.0,640.8 L1813.0,640.9 L1814.0,641.0 L1815.0,641.1 L1816.0,641.1 L1817.0,641.1 L1818.0,641.1 L1819.0,641.1 L1820.0,641.2 L1821.0,641.2 L1822.0,641.2 L1823.0,641.2 L1824.0,641.2 L1825.0,641.2 L1826.0,641.2 L1827.0,641.2 L1828.0,641.1 L1829.0,641.0 L1830.0,640.9 L1831.0,640.8 L1832.0,640.7 L1833.0,640.6 L1834.0,640.5 L1835.0,640.4 L1836.0,640.3 L1837.0,640.1 L1838.0,640.0 L1839.0,639.8 L1840.0,639.6 L1841.0,639.5 L1842.0,639.3 L1843.0,639.2 L1844.0,639.1 L1845.0,639.0 L1846.0,638.9 L1847.0,638.9 L1848.0,638.8 L1849.0,638.8 L1850.0,638.7 L1851.0,638.7 L1852.0,638.7 L1853.0,638.8 L1854.0,639.0 L1855.0,639.3 L1856.0,639.5 L1857.0,639.8 L1858.0,640.1 L1859.0,640.4 L1860.0,640.7 L1861.0,641.0 L1862.0,641.3 L1863.0,641.6 L1864.0,641.9 L1865.0,642.1 L1866.0,642.2 L1867.0,642.2 L1868.0,642.2 L1869.0,642.1 L1870.0,642.1 L1871.0,642.0 L1872.0,642.0 L1873.0,641.9 L1874.0,641.8 L1875.0,641.7 L1876.0,641.5 L1877.0,641.3 L1878.0,641.1 L1879.0,640.8 L1880.0,640.6 L1881.0,640.4 L1882.0,640.2 L1883.0,640.0 L1884.0,639.9 L1885.0,639.7 L1886.0,639.5 L1887.0,639.4 L1888.0,639.2 L1889.0,639.1 L1890.0,639.1 L1891.0,639.1 L1892.0,639.1 L1893.0,639.1 L1894.0,639.2 L1895.0,639.2 L1896.0,639.3 L1897.0,639.3 L1898.0,639.4 L1899.0,639.4 L1900.0,639.5 L1901.0,639.6 L1902.0,639.7 L1903.0,639.8 L1904.0,639.9 L1905.0,640.0 L1906.0,640.1 L1907.0,640.2 L1908.0,640.2 L1909.0,640.2 L1910.0,640.1 L1911.0,640.1 L1912.0,640.0 L1913.0,639.9 L1914.0,639.8 L1915.0,639.7 L1916.0,639.6 L1917.0,639.4 L1918.0,639.3 L1919.0,639.1 L1920.0,638.9 L1921.0,638.7 L1922.0,638.5 L1923.0,638.4 L1924.0,638.2 L1925.0,638.1 L1926.0,637.9 L1927.0,637.8 L1928.0,637.7 L1929.0,637.5 L1930.0,637.4 L1931.0,637.3 L1932.0,637.2 L1933.0,637.1 L1934.0,637.1 L1935.0,637.3 L1936.0,637.4 L1937.0,637.7 L1938.0,637.9 L1939.0,638.1 L1940.0,638.4 L1941.0,638.7 L1942.0,639.0 L1943.0,639.3 L1943.9,639.7"/>
<path class="cv" stroke="#37AD6B" d="M214.0,1190.0 L215.0,1190.0 L216.0,1190.0 L217.0,1190.0 L218.0,1190.0 L219.0,1190.0 L220.0,1190.0 L221.0,1190.0 L222.0,1190.0 L223.0,1190.0 L224.0,1190.0 L225.0,1190.0 L226.0,1190.0 L227.0,1190.0 L228.0,1190.0 L229.0,1190.0 L230.0,1190.0 L231.0,1190.0 L232.0,1190.0 L233.0,1190.0 L234.0,1190.0 L235.0,1190.0 L236.0,1190.0 L237.0,1190.0 L238.0,1190.0 L239.0,1190.0 L240.0,1190.0 L241.0,1190.0 L242.0,1190.0 L243.0,1190.0 L244.0,1190.0 L245.0,1190.0 L246.0,1190.0 L247.0,1190.0 L248.0,1190.0 L249.0,1190.0 L250.0,1190.0 L251.0,1190.0 L252.0,1190.0 L253.0,1190.0 L254.0,1190.0 L255.0,1190.0 L256.0,1190.0 L257.0,1190.0 L258.0,1190.0 L259.0,1190.0 L260.0,1190.0 L261.0,1190.0 L262.0,1190.0 L263.0,1190.0 L264.0,1190.0 L265.0,1190.0 L266.0,1190.0 L267.0,1190.0 L268.0,1190.0 L269.0,1190.0 L270.0,1190.0 L271.0,1190.0 L272.0,1190.0 L273.0,1190.0 L274.0,1190.0 L275.0,1190.0 L276.0,1190.0 L277.0,1190.0 L278.0,1190.0 L279.0,1190.1 L280.0,1190.1 L281.0,1190.1 L282.0,1190.1 L283.0,1190.1 L284.0,1190.1 L285.0,1190.1 L286.0,1190.1 L287.0,1190.1 L288.0,1190.1 L289.0,1190.1 L290.0,1190.1 L291.0,1190.1 L292.0,1190.1 L293.0,1190.1 L294.0,1190.1 L295.0,1190.1 L296.0,1190.1 L297.0,1190.1 L298.0,1190.1 L299.0,1190.1 L300.0,1190.1 L301.0,1190.1 L302.0,1190.1 L303.0,1190.1 L304.0,1190.1 L305.0,1190.1 L306.0,1190.1 L307.0,1190.1 L308.0,1190.1 L309.0,1190.1 L310.0,1190.1 L311.0,1190.1 L312.0,1190.0 L313.0,1189.8 L314.0,1189.5 L315.0,1189.2 L316.0,1188.9 L317.0,1188.6 L318.0,1188.2 L319.0,1187.9 L320.0,1187.5 L321.0,1187.2 L322.0,1186.9 L323.0,1186.5 L324.0,1186.1 L325.0,1185.6 L326.0,1185.2 L327.0,1184.7 L328.0,1184.3 L329.0,1183.9 L330.0,1183.5 L331.0,1183.2 L332.0,1182.9 L333.0,1182.8 L334.0,1183.0 L335.0,1183.3 L336.0,1183.5 L337.0,1183.8 L338.0,1184.2 L339.0,1184.5 L340.0,1184.8 L341.0,1185.2 L342.0,1185.5 L343.0,1185.9 L344.0,1186.3 L345.0,1186.7 L346.0,1187.1 L347.0,1187.6 L348.0,1188.0 L349.0,1188.5 L350.0,1189.0 L351.0,1189.5 L352.0,1190.0 L353.0,1190.6 L354.0,1191.3 L355.0,1192.1 L356.0,1192.8 L357.0,1193.6 L358.0,1194.4 L359.0,1195.2 L360.0,1195.9 L361.0,1196.6 L362.0,1197.1 L363.0,1197.5 L364.0,1197.9 L365.0,1198.3 L366.0,1198.7 L367.0,1199.1 L368.0,1199.4 L369.0,1199.7 L370.0,1199.9 L371.0,1199.9 L372.0,1199.8 L373.0,1199.6 L374.0,1199.4 L375.0,1199.2 L376.0,1198.9 L377.0,1198.7 L378.0,1198.4 L379.0,1198.2 L380.0,1197.9 L381.0,1197.7 L382.0,1197.3 L383.0,1196.9 L384.0,1196.5 L385.0,1196.1 L386.0,1195.6 L387.0,1195.2 L388.0,1194.7 L389.0,1194.3 L390.0,1193.9 L391.0,1193.5 L392.0,1193.1 L393.0,1192.8 L394.0,1192.6 L395.0,1192.3 L396.0,1192.1 L397.0,1191.8 L398.0,1191.6 L399.0,1191.3 L400.0,1191.1 L401.0,1190.8 L402.0,1190.6 L403.0,1190.4 L404.0,1190.2 L405.0,1190.0 L406.0,1189.7 L407.0,1189.5 L408.0,1189.3 L409.0,1189.1 L410.0,1188.9 L411.0,1188.7 L412.0,1188.5 L413.0,1188.4 L414.0,1188.3 L415.0,1188.2 L416.0,1188.1 L417.0,1188.1 L418.0,1188.0 L419.0,1187.9 L420.0,1187.9 L421.0,1187.8 L422.0,1187.8 L423.0,1187.9 L424.0,1188.0 L425.0,1188.1 L426.0,1188.2 L427.0,1188.4 L428.0,1188.5 L429.0,1188.7 L430.0,1188.9 L431.0,1189.0 L432.0,1189.2 L433.0,1189.3 L434.0,1189.5 L435.0,1189.6 L436.0,1189.7 L437.0,1189.8 L438.0,1190.0 L439.0,1190.1 L440.0,1190.2 L441.0,1190.3 L442.0,1190.4 L443.0,1190.5 L444.0,1190.6 L445.0,1190.7 L446.0,1190.8 L447.0,1190.8 L448.0,1190.8 L449.0,1190.7 L450.0,1190.5 L451.0,1190.4 L452.0,1190.2 L453.0,1190.0 L454.0,1189.8 L455.0,1189.6 L456.0,1189.4 L457.0,1189.2 L458.0,1189.0 L459.0,1188.8 L460.0,1188.7 L461.0,1188.6 L462.0,1188.4 L463.0,1188.3 L464.0,1188.2 L465.0,1188.0 L466.0,1187.9 L467.0,1187.8 L468.0,1187.7 L469.0,1187.5 L470.0,1187.4 L471.0,1187.4 L472.0,1187.3 L473.0,1187.3 L474.0,1187.4 L475.0,1187.6 L476.0,1187.7 L477.0,1187.9 L478.0,1188.0 L479.0,1188.2 L480.0,1188.4 L481.0,1188.6 L482.0,1188.8 L483.0,1189.0 L484.0,1189.1 L485.0,1189.3 L486.0,1189.5 L487.0,1189.6 L488.0,1189.8 L489.0,1189.9 L490.0,1190.1 L491.0,1190.2 L492.0,1190.3 L493.0,1190.5 L494.0,1190.6 L495.0,1190.8 L496.0,1190.9 L497.0,1191.0 L498.0,1191.1 L499.0,1191.2 L500.0,1191.3 L501.0,1191.4 L502.0,1191.3 L503.0,1191.1 L504.0,1190.8 L505.0,1190.6 L506.0,1190.3 L507.0,1190.0 L508.0,1189.7 L509.0,1188.8 L510.0,1187.6 L511.0,1186.1 L512.0,1184.6 L513.0,1183.0 L514.0,1181.3 L515.0,1179.5 L516.0,1177.4 L517.0,1174.8 L518.0,1172.1 L519.0,1169.3 L520.0,1166.4 L521.0,1163.5 L522.0,1160.7 L523.0,1158.0 L524.0,1155.5 L525.0,1153.0 L526.0,1150.6 L527.0,1148.1 L528.0,1145.6 L529.0,1143.0 L530.0,1140.3 L531.0,1137.5 L532.0,1134.6 L533.0,1131.4 L534.0,1126.5 L535.0,1119.5 L536.0,1112.1 L537.0,1103.4 L538.0,1094.2 L539.0,1084.1 L540.0,1073.2 L541.0,1061.4 L542.0,1048.2 L543.0,1034.0 L544.0,1015.0 L545.0,994.0 L546.0,975.3 L547.0,962.0 L548.0,949.3 L549.0,935.2 L550.0,919.8 L551.0,904.5 L552.0,889.3 L552.3,885.1 L553.3,888.9 L554.3,892.9 L555.3,897.2 L556.3,902.1 L557.3,907.7 L558.3,913.7 L559.3,920.1 L560.3,928.9 L561.3,938.7 L562.3,949.1 L563.3,960.2 L564.3,973.4 L565.3,987.0 L566.3,1000.5 L567.3,1014.1 L568.3,1027.2 L569.3,1037.3 L570.3,1046.6 L571.3,1061.3 L572.3,1099.0 L573.3,1120.2 L574.3,1131.2 L575.3,1140.6 L576.3,1147.2 L577.3,1152.5 L578.3,1157.3 L579.3,1161.4 L580.3,1164.2 L581.3,1166.7 L582.3,1168.8 L582.7,1169.7 L583.7,1167.6 L584.7,1165.1 L585.7,1162.2 L586.7,1159.1 L587.7,1154.8 L588.7,1148.9 L589.7,1142.6 L590.7,1136.4 L591.7,1130.4 L592.7,1124.4 L593.7,1118.4 L594.7,1112.4 L595.7,1106.4 L596.7,1100.4 L597.7,1094.4 L598.7,1088.4 L599.7,1082.4 L600.7,1076.6 L601.7,1070.9 L602.7,1064.9 L603.7,1056.6 L604.7,1045.5 L605.7,1037.3 L606.7,1029.4 L607.7,1020.7 L608.7,1005.9 L609.7,988.7 L610.7,970.7 L611.7,951.2 L612.7,927.4 L613.7,897.7 L614.7,846.6 L615.7,801.7 L616.7,765.4 L617.7,713.2 L618.7,654.7 L619.7,601.9 L620.7,561.6 L621.7,526.5 L622.7,496.4 L623.7,476.7 L624.7,450.6 L625.7,408.2 L626.7,365.1 L627.7,322.5 L628.7,289.0 L629.7,268.4 L630.7,253.6 L631.7,244.6 L632.7,237.6 L633.6,232.7 L634.6,239.1 L635.6,249.5 L636.6,262.7 L637.6,279.2 L638.6,297.7 L639.6,317.9 L640.6,337.8 L641.6,357.9 L642.6,379.9 L643.6,402.2 L644.6,424.4 L645.6,446.9 L646.6,468.6 L647.6,486.5 L648.6,504.8 L649.6,529.2 L650.6,556.2 L651.6,585.0 L652.6,613.5 L653.6,638.7 L654.6,662.3 L655.6,684.2 L656.6,700.6 L657.6,715.6 L658.6,728.0 L659.6,738.6 L660.6,748.8 L661.6,759.0 L662.6,769.0 L663.4,776.4 L664.4,771.9 L665.4,766.5 L666.4,760.4 L667.4,752.7 L668.4,741.9 L669.4,730.3 L670.4,718.6 L671.4,706.3 L672.4,693.7 L673.4,680.5 L674.4,666.4 L675.4,651.9 L676.4,635.4 L677.4,618.4 L678.4,606.6 L679.4,597.4 L680.4,589.8 L681.4,583.9 L682.4,579.3 L683.4,577.9 L684.4,576.8 L685.4,576.0 L686.4,575.9 L687.4,576.3 L688.4,576.9 L689.4,577.5 L690.4,579.9 L691.4,582.8 L692.4,585.7 L693.4,588.7 L694.4,591.9 L695.4,594.8 L696.4,596.8 L697.4,598.6 L698.4,600.3 L699.4,601.9 L700.4,603.4 L701.4,604.9 L702.4,606.2 L703.4,607.5 L704.4,608.7 L705.4,609.8 L706.4,610.7 L707.4,611.0 L708.4,611.3 L709.4,611.5 L710.4,611.4 L711.4,610.8 L712.4,610.0 L713.4,609.0 L714.4,608.0 L715.4,605.9 L716.4,603.3 L717.4,600.4 L718.4,597.2 L719.4,593.1 L720.4,587.5 L721.4,581.3 L722.4,574.8 L723.4,566.5 L724.4,557.3 L725.4,548.0 L726.4,539.5 L727.4,531.9 L728.4,524.5 L729.4,517.0 L730.4,509.6 L731.4,502.0 L732.4,494.5 L733.4,487.1 L734.4,479.9 L735.4,472.4 L736.4,462.7 L737.4,452.5 L738.4,442.3 L739.4,431.9 L740.4,422.4 L741.4,416.1 L742.4,410.3 L743.4,405.2 L744.4,401.2 L745.4,398.6 L746.4,396.2 L747.4,394.0 L748.4,391.8 L749.4,389.7 L750.4,387.9 L751.4,386.3 L752.4,384.6 L753.4,383.0 L754.4,381.4 L755.4,379.5 L756.4,377.5 L757.4,375.5 L758.4,373.4 L759.4,371.4 L760.4,369.5 L761.4,367.7 L762.4,365.9 L763.4,364.2 L764.4,363.0 L765.4,362.8 L766.4,362.9 L767.4,363.0 L768.4,363.1 L769.4,363.3 L770.4,364.1 L771.4,365.0 L772.4,366.0 L773.4,367.3 L774.4,368.9 L775.4,370.5 L776.4,371.8 L777.4,372.7 L778.4,373.6 L779.4,374.2 L780.4,374.1 L781.4,373.2 L782.4,372.1 L783.4,370.9 L784.4,368.5 L785.4,365.6 L786.4,362.7 L787.4,360.3 L788.4,358.4 L789.4,356.8 L790.4,357.3 L791.4,358.9 L792.4,360.9 L793.4,364.9 L794.4,369.8 L795.4,375.9 L796.4,384.9 L797.4,394.7 L798.4,406.7 L799.4,419.5 L800.4,434.1 L801.4,449.1 L802.4,462.1 L803.4,475.2 L804.4,489.1 L805.4,502.8 L806.4,516.1 L807.4,529.4 L808.4,542.7 L809.4,556.1 L810.4,569.4 L811.4,583.0 L812.4,596.4 L813.4,608.4 L814.4,618.7 L815.4,628.4 L816.4,636.3 L817.4,643.2 L818.4,649.2 L819.4,652.8 L820.4,655.8 L821.4,656.8 L822.4,654.9 L823.4,652.3 L824.4,649.8 L825.4,647.9 L826.4,646.2 L827.4,644.5 L828.4,642.9 L829.4,641.3 L830.4,639.7 L831.4,638.3 L832.4,637.0 L833.4,635.7 L834.4,634.3 L835.4,632.8 L836.4,631.0 L837.4,627.6 L838.4,623.7 L839.4,619.5 L840.4,615.1 L841.4,610.0 L842.4,604.3 L843.4,598.2 L844.4,592.0 L845.4,585.6 L846.4,578.4 L847.4,571.0 L848.4,563.3 L849.4,554.5 L850.4,544.7 L851.4,534.3 L852.4,521.7 L853.4,508.0 L854.4,495.0 L855.4,483.5 L856.4,472.0 L857.4,458.3 L858.4,444.2 L859.4,430.5 L860.4,416.7 L861.4,404.1 L862.4,395.2 L863.4,387.1 L864.4,381.3 L865.4,379.4 L866.4,378.0 L866.4,378.0 L867.4,379.7 L868.4,381.6 L869.4,383.8 L870.4,387.3 L871.4,391.2 L872.4,395.5 L873.4,401.4 L874.4,407.9 L875.4,414.4 L876.4,420.9 L877.4,427.6 L878.4,435.4 L879.4,444.4 L880.4,453.0 L881.4,461.3 L882.4,469.5 L883.4,477.5 L884.4,485.2 L885.4,492.1 L886.4,498.2 L887.4,504.2 L888.4,509.8 L889.4,514.8 L890.4,518.3 L891.4,520.5 L892.4,522.7 L893.4,524.6 L894.4,526.3 L895.4,527.6 L896.4,527.7 L897.4,526.7 L898.4,525.3 L899.4,523.8 L900.4,522.0 L901.4,520.1 L902.4,516.8 L903.4,511.6 L904.4,505.6 L905.4,499.2 L906.4,492.4 L907.4,484.4 L908.4,474.7 L909.4,464.4 L910.4,454.0 L911.4,443.2 L912.4,431.1 L913.4,419.2 L914.4,409.1 L915.4,404.2 L916.4,402.0 L917.4,400.1 L918.4,398.4 L919.4,397.1 L920.4,396.1 L921.4,395.2 L922.4,395.1 L923.4,397.5 L924.4,400.7 L925.4,404.4 L926.4,408.3 L927.4,413.0 L928.4,418.7 L929.4,424.7 L930.4,430.9 L931.4,437.3 L932.4,444.5 L933.4,452.5 L934.4,460.6 L935.4,468.8 L936.4,476.9 L937.4,484.4 L938.4,492.0 L939.4,499.5 L940.4,506.7 L941.4,513.4 L942.4,518.3 L943.4,522.4 L944.4,526.4 L945.4,530.0 L946.4,533.3 L947.4,535.4 L948.4,537.1 L949.4,538.6 L950.4,539.9 L951.4,540.9 L952.4,540.4 L953.4,539.1 L954.4,537.6 L955.4,535.8 L956.4,533.8 L957.4,531.7 L958.4,526.3 L959.4,518.5 L960.4,509.9 L961.4,501.1 L962.4,491.6 L963.4,481.3 L964.4,471.1 L965.4,461.2 L966.4,453.1 L967.4,445.1 L968.4,437.5 L969.4,430.5 L970.4,424.5 L971.4,421.7 L972.4,419.6 L973.4,417.7 L974.4,415.9 L975.4,414.4 L976.4,412.9 L977.4,411.8 L978.4,413.0 L979.4,415.2 L980.4,417.8 L981.4,420.6 L982.4,423.3 L983.4,426.4 L984.4,429.7 L985.4,433.1 L986.4,436.6 L987.4,440.1 L988.4,443.7 L989.4,447.2 L990.4,451.1 L991.4,455.0 L992.4,459.0 L993.4,463.0 L994.4,467.0 L995.4,471.2 L996.4,475.7 L997.4,480.2 L998.4,484.8 L999.4,489.5 L1000.4,494.2 L1001.4,499.1 L1002.4,504.8 L1003.4,510.7 L1004.4,516.7 L1005.4,522.8 L1006.4,529.1 L1007.4,536.4 L1008.4,543.9 L1009.4,551.5 L1010.4,559.1 L1011.4,566.6 L1012.4,574.1 L1013.4,581.6 L1014.4,589.1 L1015.4,596.7 L1016.4,604.4 L1017.4,611.9 L1018.4,619.0 L1019.4,625.0 L1020.4,631.0 L1021.4,636.4 L1022.4,640.8 L1023.4,642.8 L1024.4,644.4 L1024.9,645.0 L1025.9,643.3 L1026.9,640.7 L1027.9,635.9 L1028.9,628.4 L1029.9,620.1 L1030.9,611.7 L1031.9,604.1 L1032.9,596.8 L1033.9,589.4 L1034.9,581.7 L1035.9,572.8 L1036.9,562.9 L1037.9,552.7 L1038.9,542.5 L1039.9,532.4 L1040.9,522.4 L1041.9,512.3 L1042.9,502.4 L1043.9,493.0 L1044.9,483.8 L1045.9,474.7 L1046.9,466.0 L1047.9,458.2 L1048.9,450.6 L1049.9,443.4 L1050.9,437.1 L1051.9,433.4 L1052.9,430.6 L1053.9,428.1 L1054.9,426.1 L1055.9,425.1 L1056.9,424.5 L1057.9,424.1 L1058.9,425.1 L1059.9,427.0 L1060.9,429.5 L1061.9,432.1 L1062.9,434.9 L1063.9,439.0 L1064.9,443.8 L1065.9,449.1 L1066.9,454.4 L1067.9,460.1 L1068.9,466.1 L1069.9,472.2 L1070.9,478.2 L1071.9,484.3 L1072.9,490.6 L1073.9,496.7 L1074.9,502.4 L1075.9,506.4 L1076.9,509.9 L1077.9,512.8 L1078.9,514.1 L1079.9,515.1 L1080.9,515.9 L1081.9,516.6 L1082.9,517.1 L1083.9,516.7 L1084.9,515.8 L1085.9,514.8 L1086.9,513.6 L1087.9,512.5 L1088.9,511.3 L1089.9,510.1 L1090.9,508.7 L1091.9,507.3 L1092.9,506.0 L1093.9,504.6 L1094.9,503.4 L1095.9,502.4 L1096.9,501.5 L1097.9,500.5 L1098.9,499.7 L1099.9,498.9 L1100.9,498.3 L1101.9,498.1 L1102.9,498.0 L1103.9,497.8 L1104.9,497.7 L1105.9,497.6 L1106.9,497.5 L1107.9,497.4 L1108.9,497.3 L1109.9,497.3 L1110.9,497.3 L1111.9,497.3 L1112.9,497.3 L1113.9,497.3 L1114.9,497.3 L1115.9,497.3 L1116.9,497.3 L1117.9,496.6 L1118.9,495.7 L1119.9,494.6 L1120.9,493.5 L1121.9,492.3 L1122.9,491.3 L1123.9,490.2 L1124.9,489.1 L1125.9,488.1 L1126.9,487.1 L1127.9,486.3 L1128.9,485.9 L1129.9,485.6 L1130.9,485.4 L1131.9,485.8 L1132.9,486.3 L1133.9,486.9 L1134.9,487.7 L1135.9,488.5 L1136.9,490.0 L1137.9,491.7 L1138.9,493.6 L1139.9,495.6 L1140.9,497.6 L1141.9,499.9 L1142.9,502.4 L1143.9,504.9 L1144.9,507.3 L1145.9,509.5 L1146.9,511.4 L1147.9,513.3 L1148.9,515.0 L1149.9,516.3 L1150.9,516.8 L1151.9,517.2 L1152.9,517.6 L1153.9,517.8 L1154.9,517.4 L1155.9,516.9 L1156.9,516.3 L1157.9,515.7 L1158.9,515.1 L1159.9,514.4 L1160.9,513.7 L1161.9,513.0 L1162.9,512.4 L1163.9,511.7 L1164.9,511.1 L1165.9,510.7 L1166.9,510.2 L1167.9,509.8 L1168.9,509.4 L1169.9,509.3 L1170.9,509.8 L1171.9,510.3 L1172.9,511.0 L1173.9,511.7 L1174.9,512.5 L1175.9,513.6 L1176.9,514.8 L1177.9,516.0 L1178.9,517.2 L1179.9,518.4 L1180.9,519.5 L1181.9,520.3 L1182.9,521.2 L1183.9,522.0 L1184.9,522.7 L1185.9,523.3 L1186.9,523.6 L1187.9,523.9 L1188.9,524.1 L1189.9,524.0 L1190.9,523.4 L1191.9,522.6 L1192.9,521.7 L1193.9,520.7 L1194.9,519.8 L1195.9,518.9 L1196.9,517.9 L1197.9,516.9 L1198.9,515.8 L1199.9,514.8 L1200.9,513.8 L1201.9,512.8 L1202.9,511.9 L1203.9,511.0 L1204.9,510.2 L1205.9,509.3 L1206.9,508.5 L1207.9,507.7 L1208.9,507.0 L1209.9,506.3 L1210.9,505.7 L1211.9,505.0 L1212.9,504.4 L1213.9,503.7 L1214.9,502.7 L1215.9,501.5 L1216.9,500.2 L1217.9,498.8 L1218.9,497.4 L1219.9,496.0 L1220.9,494.6 L1221.9,493.0 L1222.9,491.5 L1223.9,489.9 L1224.9,488.4 L1225.9,487.0 L1226.9,485.9 L1227.9,485.0 L1228.9,484.2 L1229.9,483.6 L1230.9,483.5 L1231.9,483.9 L1232.9,484.4 L1233.9,484.9 L1234.9,485.5 L1235.9,486.1 L1236.9,486.7 L1237.9,487.5 L1238.9,488.2 L1239.9,489.1 L1240.9,489.9 L1241.9,490.6 L1242.9,491.4 L1243.9,492.1 L1244.9,492.5 L1245.9,492.9 L1246.9,493.3 L1247.9,493.7 L1248.9,494.0 L1249.9,494.2 L1250.9,494.0 L1251.9,493.4 L1252.9,492.6 L1253.9,491.7 L1254.9,490.7 L1255.9,489.7 L1256.9,488.4 L1257.9,486.9 L1258.9,485.3 L1259.9,483.5 L1260.9,480.9 L1261.9,478.0 L1262.9,474.9 L1263.9,471.7 L1264.9,467.5 L1265.9,462.9 L1266.9,458.3 L1267.9,453.8 L1268.9,449.6 L1269.9,445.4 L1270.9,441.3 L1271.9,437.7 L1272.9,435.3 L1273.9,433.0 L1274.9,431.0 L1275.9,429.6 L1276.9,430.1 L1277.9,430.8 L1278.9,431.6 L1279.9,432.6 L1280.9,434.8 L1281.9,437.5 L1282.9,440.4 L1283.9,443.6 L1284.9,448.1 L1285.9,453.0 L1286.9,458.2 L1287.9,463.6 L1288.9,470.4 L1289.9,477.5 L1290.9,484.7 L1291.9,491.6 L1292.9,497.8 L1293.9,504.0 L1294.9,510.0 L1295.9,515.5 L1296.9,519.8 L1297.9,524.0 L1298.9,527.9 L1299.9,531.3 L1300.9,533.6 L1301.9,535.7 L1302.9,537.6 L1303.9,539.2 L1304.9,540.0 L1305.9,540.7 L1306.9,541.0 L1307.9,540.3 L1308.9,539.3 L1309.9,538.2 L1310.9,536.9 L1311.9,534.6 L1312.9,532.1 L1313.9,529.4 L1314.9,526.7 L1315.9,523.5 L1316.9,520.2 L1317.9,516.9 L1318.9,513.7 L1319.9,510.8 L1320.9,508.6 L1321.9,506.4 L1322.9,504.3 L1323.9,502.5 L1324.9,501.2 L1325.9,500.7 L1326.9,500.2 L1327.9,499.8 L1328.9,499.5 L1329.9,499.3 L1330.9,499.6 L1331.9,499.9 L1332.9,500.2 L1333.9,500.6 L1334.9,501.0 L1335.9,501.4 L1336.9,501.8 L1337.9,502.3 L1338.9,502.7 L1339.9,503.1 L1340.9,503.5 L1341.9,503.6 L1342.9,503.5 L1343.9,503.3 L1344.9,503.1 L1345.9,502.9 L1346.9,502.6 L1347.9,502.4 L1348.9,502.2 L1349.9,502.0 L1350.9,501.8 L1351.9,501.5 L1352.9,501.3 L1353.9,501.1 L1354.9,501.0 L1355.9,501.0 L1356.9,501.5 L1357.9,502.2 L1358.9,503.0 L1359.9,503.8 L1360.9,504.7 L1361.9,505.7 L1362.9,507.2 L1363.9,508.8 L1364.9,510.5 L1365.9,512.2 L1366.9,514.1 L1367.9,516.2 L1368.9,518.8 L1369.9,521.6 L1370.9,524.5 L1371.9,527.4 L1372.9,530.5 L1373.9,534.2 L1374.9,537.8 L1375.9,541.3 L1376.9,543.9 L1377.9,545.9 L1378.9,547.7 L1379.9,549.3 L1380.9,550.4 L1381.9,551.2 L1382.9,551.8 L1383.9,551.8 L1384.9,551.0 L1385.9,550.0 L1386.9,548.9 L1387.9,547.7 L1388.9,546.1 L1389.9,543.9 L1390.9,541.4 L1391.9,538.9 L1392.9,536.3 L1393.9,533.9 L1394.9,531.5 L1395.9,529.1 L1396.9,526.7 L1397.9,524.3 L1398.9,522.2 L1399.9,520.4 L1400.9,518.9 L1401.9,517.4 L1402.9,516.0 L1403.9,514.8 L1404.9,513.7 L1405.9,513.0 L1406.9,512.6 L1407.9,512.3 L1408.9,512.0 L1409.9,511.7 L1410.9,511.4 L1411.9,511.0 L1412.9,510.7 L1413.9,510.4 L1414.9,510.1 L1415.9,509.8 L1416.9,509.4 L1417.9,508.7 L1418.9,507.6 L1419.9,506.5 L1420.9,505.2 L1421.9,503.9 L1422.9,502.7 L1423.9,501.5 L1424.9,500.2 L1425.9,499.0 L1426.9,497.7 L1427.9,496.6 L1428.9,495.6 L1429.9,495.0 L1430.9,494.6 L1431.9,494.3 L1432.9,494.0 L1433.9,493.8 L1434.9,494.0 L1435.9,494.6 L1436.9,495.3 L1437.9,496.1 L1438.9,497.0 L1439.9,498.6 L1440.9,500.8 L1441.9,503.3 L1442.9,505.9 L1443.9,508.5 L1444.9,511.7 L1445.9,515.2 L1446.9,518.8 L1447.9,522.5 L1448.9,526.2 L1449.9,530.1 L1450.9,534.1 L1451.9,538.1 L1452.9,542.2 L1453.9,546.2 L1454.9,550.2 L1455.9,554.2 L1456.9,558.3 L1457.9,562.3 L1458.9,566.2 L1459.9,569.9 L1460.9,573.5 L1461.9,577.1 L1462.9,580.4 L1463.9,582.8 L1464.9,585.0 L1465.9,587.0 L1466.9,588.6 L1467.9,589.4 L1468.9,589.8 L1469.9,589.2 L1470.9,588.1 L1471.9,586.7 L1472.9,585.1 L1473.9,582.1 L1474.9,578.3 L1475.9,574.0 L1476.9,569.5 L1477.9,563.0 L1478.9,555.6 L1479.9,547.8 L1480.9,539.9 L1481.9,531.2 L1482.9,522.2 L1483.9,513.0 L1484.9,504.0 L1485.9,495.3 L1486.9,486.7 L1487.9,478.1 L1488.9,469.9 L1489.9,463.0 L1490.9,456.2 L1491.9,449.7 L1492.9,443.8 L1493.9,439.7 L1494.9,435.9 L1495.9,432.5 L1496.9,429.7 L1497.9,428.7 L1498.9,427.8 L1499.9,427.1 L1500.9,426.5 L1501.9,426.0 L1502.9,426.7 L1503.9,427.7 L1504.9,428.9 L1505.9,430.2 L1506.9,431.6 L1507.9,434.6 L1508.9,438.1 L1509.9,441.9 L1510.9,445.7 L1511.9,449.9 L1512.9,454.3 L1513.9,458.7 L1514.9,463.2 L1515.9,467.7 L1516.9,472.1 L1517.9,476.6 L1518.9,481.0 L1519.9,485.4 L1520.9,489.6 L1521.9,493.4 L1522.9,497.3 L1523.9,501.0 L1524.9,504.4 L1525.9,507.4 L1526.9,509.3 L1527.9,511.1 L1528.9,512.8 L1529.9,514.2 L1530.9,515.3 L1531.9,515.6 L1532.9,515.8 L1533.9,516.1 L1534.9,516.1 L1535.9,515.6 L1536.9,514.9 L1537.9,514.0 L1538.9,513.1 L1539.9,512.1 L1540.9,510.9 L1541.9,508.9 L1542.9,506.7 L1543.9,504.3 L1544.9,501.8 L1545.9,499.3 L1546.9,496.8 L1547.9,494.1 L1548.9,491.3 L1549.9,488.6 L1550.9,485.8 L1551.9,483.3 L1552.9,481.0 L1553.9,479.2 L1554.9,477.4 L1555.9,475.8 L1556.9,474.3 L1557.9,473.3 L1558.9,472.8 L1559.9,472.3 L1560.9,471.9 L1561.9,471.6 L1562.9,471.4 L1563.9,471.7 L1564.9,472.0 L1565.9,472.3 L1566.9,472.6 L1567.9,472.9 L1568.9,473.0 L1569.9,473.0 L1570.9,473.0 L1571.9,473.0 L1572.9,473.0 L1573.9,473.0 L1574.9,472.9 L1575.9,472.5 L1576.9,471.9 L1577.9,471.3 L1578.9,470.6 L1579.9,469.9 L1580.9,469.0 L1581.9,467.5 L1582.9,465.8 L1583.9,464.1 L1584.9,462.3 L1585.9,460.5 L1586.9,458.9 L1587.9,457.2 L1588.9,455.5 L1589.9,453.8 L1590.9,452.3 L1591.9,451.2 L1592.9,450.4 L1593.9,449.8 L1594.9,449.7 L1595.9,450.3 L1596.9,451.0 L1597.9,451.9 L1598.9,453.4 L1599.9,455.9 L1600.9,458.7 L1601.9,461.8 L1602.9,465.1 L1603.9,468.9 L1604.9,473.0 L1605.9,477.1 L1606.9,481.6 L1607.9,486.6 L1608.9,491.7 L1609.9,496.8 L1610.9,501.3 L1611.9,505.4 L1612.9,509.4 L1613.9,513.3 L1614.9,516.8 L1615.9,520.0 L1616.9,523.1 L1617.9,525.9 L1618.9,527.9 L1619.9,529.3 L1620.9,530.6 L1621.9,531.7 L1622.9,532.4 L1623.9,532.7 L1624.9,533.0 L1625.9,532.9 L1626.9,532.2 L1627.9,531.4 L1628.9,530.5 L1629.9,529.6 L1630.9,528.3 L1631.9,526.8 L1632.9,525.2 L1633.9,523.4 L1634.9,521.7 L1635.9,519.9 L1636.9,518.0 L1637.9,516.0 L1638.9,513.9 L1639.9,511.8 L1640.9,509.8 L1641.9,507.9 L1642.9,506.5 L1643.9,505.4 L1644.9,504.3 L1645.9,503.3 L1646.9,502.4 L1647.9,501.5 L1648.9,501.0 L1649.9,500.6 L1650.9,500.3 L1651.9,500.0 L1652.9,499.7 L1653.9,499.4 L1654.9,499.1 L1655.9,498.9 L1656.9,498.7 L1657.9,498.4 L1658.9,498.3 L1659.9,498.2 L1660.9,498.1 L1661.9,498.0 L1662.9,498.0 L1663.9,497.9 L1664.9,497.8 L1665.9,497.8 L1666.9,497.7 L1667.9,497.6 L1668.9,497.5 L1669.9,497.3 L1670.9,497.3 L1671.9,497.6 L1672.9,498.0 L1673.9,498.4 L1674.9,498.9 L1675.9,499.5 L1676.9,500.5 L1677.9,501.7 L1678.9,502.9 L1679.9,504.2 L1680.9,505.6 L1681.9,507.2 L1682.9,508.8 L1683.9,510.5 L1684.9,512.2 L1685.9,513.9 L1686.9,515.6 L1687.9,517.3 L1688.9,519.0 L1689.9,520.7 L1690.9,522.4 L1691.9,524.0 L1692.9,525.5 L1693.9,526.8 L1694.9,528.0 L1695.9,529.3 L1696.9,530.4 L1697.9,531.5 L1698.9,532.3 L1699.9,532.8 L1700.9,533.3 L1701.9,533.8 L1702.9,534.2 L1703.9,534.6 L1704.9,534.7 L1705.9,534.5 L1706.9,534.3 L1707.9,534.0 L1708.9,533.7 L1709.9,533.3 L1710.9,532.9 L1711.9,532.2 L1712.9,531.4 L1713.9,530.6 L1714.9,529.7 L1715.9,528.7 L1716.9,527.7 L1717.9,526.2 L1718.9,524.7 L1719.9,523.1 L1720.9,521.5 L1721.9,520.0 L1722.9,518.7 L1723.9,517.6 L1724.9,516.5 L1725.9,515.4 L1726.9,514.5 L1727.9,513.6 L1728.9,513.1 L1729.9,512.9 L1730.9,512.8 L1731.9,512.7 L1732.9,512.5 L1733.9,512.3 L1734.9,512.0 L1735.9,511.3 L1736.9,510.5 L1737.9,509.6 L1738.9,508.7 L1739.9,507.7 L1740.9,506.7 L1741.9,505.4 L1742.9,504.1 L1743.9,502.8 L1744.9,501.4 L1745.9,500.0 L1746.9,498.3 L1747.9,496.4 L1748.9,494.4 L1749.9,492.4 L1750.9,490.3 L1751.9,488.3 L1752.9,486.2 L1753.9,484.1 L1754.9,482.0 L1755.9,480.0 L1756.9,478.1 L1757.9,476.8 L1758.9,475.7 L1759.9,474.7 L1760.9,473.9 L1761.9,473.2 L1762.9,473.2 L1763.9,473.5 L1764.9,474.0 L1765.9,474.6 L1766.9,475.2 L1767.9,476.0 L1768.9,477.1 L1769.9,478.4 L1770.9,479.7 L1771.9,480.9 L1772.9,482.1 L1773.9,483.3 L1774.9,484.5 L1775.9,485.7 L1776.9,486.9 L1777.9,488.0 L1778.9,488.8 L1779.9,489.5 L1780.9,490.2 L1781.9,490.9 L1782.9,491.5 L1783.9,492.1 L1784.9,492.6 L1785.9,493.0 L1786.9,493.3 L1787.9,493.7 L1788.9,494.0 L1789.9,494.4 L1790.9,494.7 L1791.9,495.2 L1792.9,495.9 L1793.9,496.8 L1794.9,497.8 L1795.9,498.8 L1796.9,499.9 L1797.9,501.0 L1798.9,502.2 L1799.9,503.5 L1800.9,504.9 L1801.9,506.2 L1802.9,507.6 L1803.9,508.9 L1804.9,510.2 L1805.9,511.5 L1806.9,512.8 L1807.9,513.9 L1808.9,515.0 L1809.9,515.7 L1810.9,516.3 L1811.9,516.8 L1812.9,517.2 L1813.9,517.1 L1814.9,516.9 L1815.9,516.7 L1816.9,516.5 L1817.9,516.2 L1818.9,515.9 L1819.9,515.4 L1820.9,514.8 L1821.9,514.3 L1822.9,513.8 L1823.9,513.3 L1824.9,512.9 L1825.9,512.6 L1826.9,512.3 L1827.9,511.9 L1828.9,511.6 L1829.9,511.3 L1830.9,510.8 L1831.9,510.3 L1832.9,509.8 L1833.9,509.2 L1834.9,508.7 L1835.9,508.3 L1836.9,508.0 L1837.9,507.7 L1838.9,507.4 L1839.9,507.2 L1840.9,507.0 L1841.9,506.9 L1842.9,507.1 L1843.9,507.4 L1844.9,507.9 L1845.9,508.3 L1846.9,508.8 L1847.9,509.7 L1848.9,510.9 L1849.9,512.0 L1850.9,513.2 L1851.9,514.2 L1852.9,514.9 L1853.9,515.5 L1854.9,516.2 L1855.9,516.7 L1856.9,517.2 L1857.9,517.5 L1858.9,517.7 L1859.9,517.9 L1860.9,518.1 L1861.9,518.2 L1862.9,517.9 L1863.9,517.4 L1864.9,516.9 L1865.9,516.3 L1866.9,515.7 L1867.9,515.2 L1868.9,514.5 L1869.9,513.9 L1870.9,513.2 L1871.9,512.5 L1872.9,511.8 L1873.9,511.2 L1874.9,510.6 L1875.9,510.1 L1876.9,509.6 L1877.9,509.1 L1878.9,508.6 L1879.9,508.2 L1880.9,507.9 L1881.9,507.7 L1882.9,507.4 L1883.9,507.2 L1884.9,507.0 L1885.9,506.9 L1886.9,507.0 L1887.9,507.2 L1888.9,507.5 L1889.9,507.8 L1890.9,508.0 L1891.9,508.3 L1892.9,508.6 L1893.9,509.0 L1894.9,509.4 L1895.9,509.7 L1896.9,510.0 L1897.9,510.3 L1898.9,510.4 L1899.9,510.4 L1900.9,510.5 L1901.9,510.6 L1902.9,510.6 L1903.9,510.2 L1904.9,509.8 L1905.9,509.2 L1906.9,508.7 L1907.9,508.1 L1908.9,507.3 L1909.9,506.5 L1910.9,505.6 L1911.9,504.7 L1912.9,503.9 L1913.9,503.1 L1914.9,502.4 L1915.9,501.6 L1916.9,501.0 L1917.9,500.3 L1918.9,499.7 L1919.9,499.2 L1920.9,498.8 L1921.9,498.5 L1922.9,498.2 L1923.9,498.0 L1924.9,497.9 L1925.9,498.1 L1926.9,498.4 L1927.9,498.7 L1928.9,499.0 L1929.9,499.5 L1930.9,500.4 L1931.9,501.4 L1932.9,502.5 L1933.9,503.6 L1934.9,504.7 L1935.9,505.9 L1936.9,507.1 L1937.9,508.3 L1938.9,509.5 L1939.9,510.6 L1940.9,511.5 L1941.9,512.5 L1942.9,513.4 L1943.9,514.2"/>
</g>
<text class="t" font-size="74.8" transform="translate(114.95,70.90) scale(0.9152,1)">18</text>
<text class="t" font-size="74.8" transform="translate(114.67,197.70) scale(0.9272,1)">16</text>
<text class="t" font-size="74.8" transform="translate(114.75,324.50) scale(0.9137,1)">14</text>
<text class="t" font-size="74.8" transform="translate(114.53,451.30) scale(0.9649,1)">12</text>
<text class="t" font-size="74.8" transform="translate(114.66,578.10) scale(0.9448,1)">10</text>
<text class="t" font-size="74.8" transform="translate(150.54,704.90) scale(0.8760,1)">8</text>
<text class="t" font-size="74.8" transform="translate(148.27,831.70) scale(0.9575,1)">6</text>
<text class="t" font-size="74.8" transform="translate(148.69,958.50) scale(0.9201,1)">4</text>
<text class="t" font-size="74.8" transform="translate(147.80,1085.30) scale(1.0488,1)">2</text>
<text class="t" font-size="74.8" transform="translate(147.93,1212.10) scale(1.0037,1)">0</text>
<text class="t" font-size="74.8" transform="translate(124.34,1338.90) scale(1.0000,1)">-2</text>
<text class="t" font-size="74.8" transform="translate(124.50,1465.70) scale(0.9348,1)">-4</text>
<text class="t" font-size="74.8" transform="translate(196.49,1529.80) scale(0.9791,1)">0</text>
<text class="t" font-size="74.8" transform="translate(630.21,1529.80) scale(0.9128,1)">5</text>
<text class="t" font-size="74.8" transform="translate(1047.95,1529.80) scale(0.9296,1)">10</text>
<text class="t" font-size="74.8" transform="translate(1481.07,1529.80) scale(0.9114,1)">15</text>
<text class="t" font-size="74.8" transform="translate(1910.89,1529.80) scale(0.9872,1)">20</text>
<text class="t" font-size="73.0" transform="translate(945.72,1611.80) scale(0.9914,1)">Time (s)</text>
<text class="t" font-size="78.6" transform="translate(89.0,1353.88) rotate(-90) scale(1.0067,1)">Floating displacement of station (mm)</text>
<path class="cv" stroke="#515151" d="M1624.1,105.0 H1785.9"/>
<text class="t" font-size="73.4" transform="translate(1803.99,129.40) scale(0.9675,1)">DZ1</text>
<path class="cv" stroke="#1A6FDF" d="M1624.1,194.1 H1785.9"/>
<text class="t" font-size="73.4" transform="translate(1803.92,218.50) scale(1.0025,1)">DZ2</text>
<path class="cv" stroke="#FA0000" d="M1624.1,282.9 H1785.9"/>
<text class="t" font-size="73.4" transform="translate(1803.99,307.30) scale(0.9696,1)">DZ3</text>
<path class="cv" stroke="#37AD6B" d="M1624.1,372.85 H1785.9"/>
<text class="t" font-size="73.4" transform="translate(1804.06,397.25) scale(0.9838,1)">DZ4</text>
</svg>
</body></html>
